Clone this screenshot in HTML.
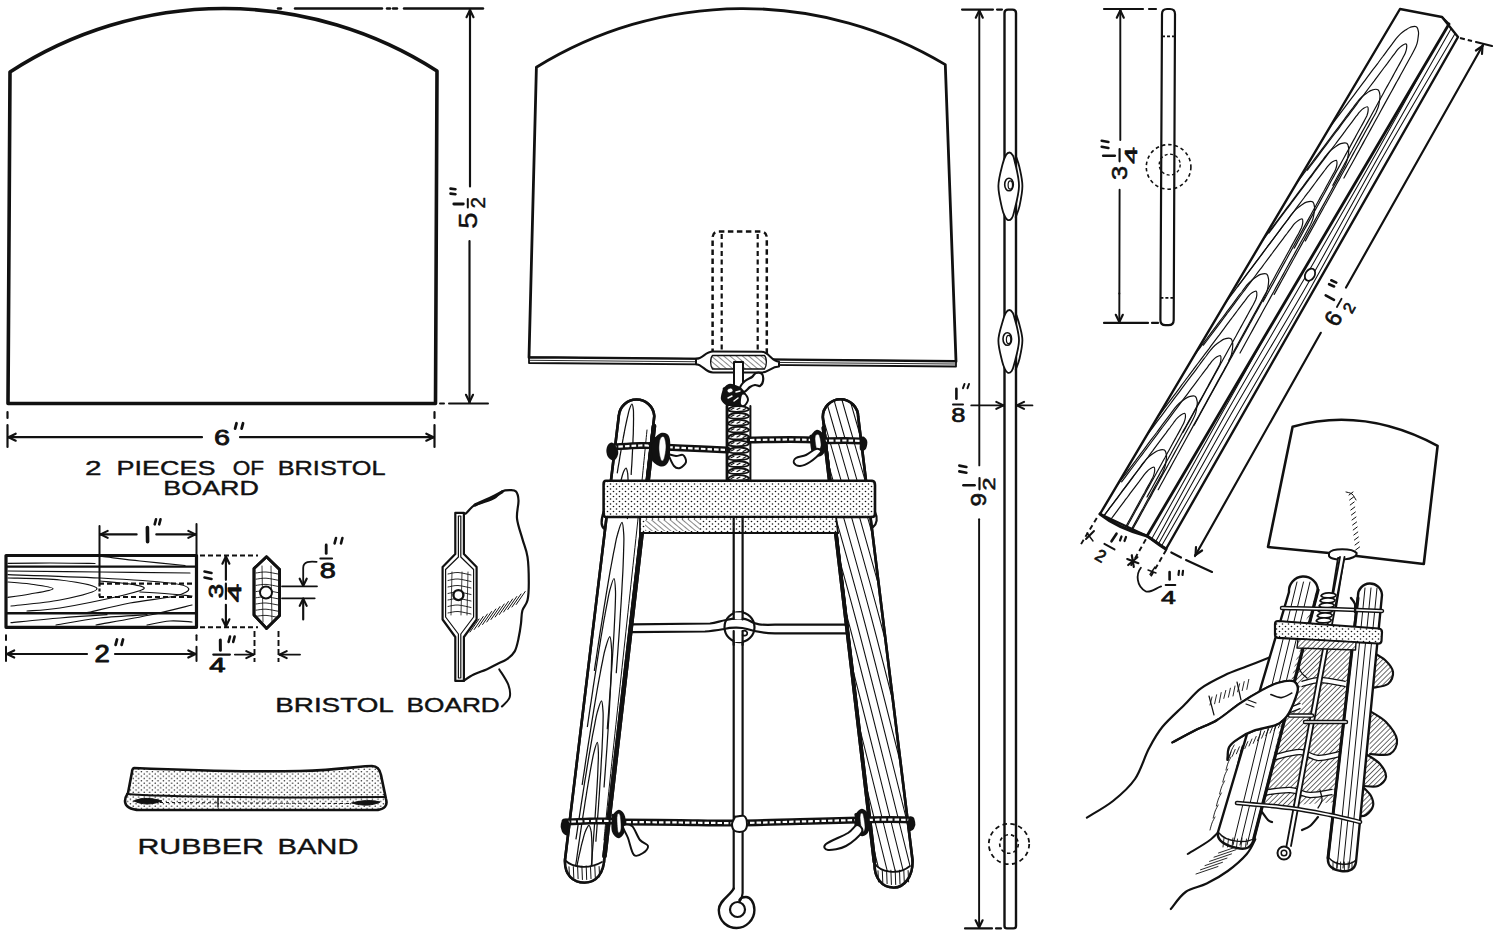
<!DOCTYPE html>
<html><head><meta charset="utf-8"><style>
html,body{margin:0;padding:0;background:#fff;width:1500px;height:938px;overflow:hidden}
svg{display:block}
text{font-family:"Liberation Sans",sans-serif;fill:#111}
</style></head><body>
<svg width="1500" height="938" viewBox="0 0 1500 938" stroke="#111" fill="none" stroke-linejoin="round" stroke-linecap="round">
<defs><pattern id="stip" width="9" height="7" patternUnits="userSpaceOnUse"><rect width="9" height="7" fill="#fff" stroke="none"/><circle cx="2" cy="2" r="0.9" fill="#111" stroke="none"/><circle cx="6.5" cy="5.5" r="0.9" fill="#111" stroke="none"/></pattern>
<pattern id="stip2" width="6" height="5" patternUnits="userSpaceOnUse"><rect width="6" height="5" fill="#fff" stroke="none"/><circle cx="1.5" cy="1.5" r="0.8" fill="#111" stroke="none"/><circle cx="4.5" cy="4" r="0.8" fill="#111" stroke="none"/></pattern>
<pattern id="stip3" width="5.5" height="4.6" patternUnits="userSpaceOnUse"><rect width="5.5" height="4.6" fill="#fff" stroke="none"/><circle cx="1.2" cy="1.2" r="0.75" fill="#111" stroke="none"/><circle cx="4" cy="3.5" r="0.75" fill="#111" stroke="none"/></pattern>
<pattern id="hatchA" width="4" height="4" patternUnits="userSpaceOnUse" patternTransform="rotate(-50)"><rect width="4" height="4" fill="#fff" stroke="none"/><line x1="0" y1="0" x2="0" y2="4" stroke="#111" stroke-width="1"/></pattern>
<clipPath id="cLP"><path d="M618.8,416 A17.8,17.8 0 0 1 654.3,416 L604.5,856 C604,874 596,882.5 584.5,882.5 C573,882.5 564.5,875 565,860 Z"/></clipPath>
<clipPath id="cRP"><path d="M822.8,417 A17.7,17.7 0 0 1 858.2,417 L912.5,860 C913,877 904,887.5 893.7,887.5 C882,887.5 874,878 874.5,862 Z"/></clipPath>
<clipPath id="cLF"><polygon points="1400,9 1442,17 1449,24 1147,536 1100,514"/></clipPath>
<clipPath id="cRF"><polygon points="1442,17 1458,37 1166,549 1147,536 1449,24"/></clipPath>
<pattern id="hatchH" width="3.6" height="3.6" patternUnits="userSpaceOnUse" patternTransform="rotate(45)"><rect width="3.6" height="3.6" fill="#fff" stroke="none"/><line x1="0" y1="0" x2="0" y2="3.6" stroke="#111" stroke-width="1.25"/></pattern>
<clipPath id="cLPs"><path d="M1289,592 A14.5,14.5 0 0 1 1318,590 L1254,838 C1252,848 1246,850 1237,848 C1228,846 1216,842 1218,832 Z"/></clipPath>
<clipPath id="cRPs"><path d="M1358,596 A12,12 0 0 1 1382,595 L1356,862 C1355,870 1348,872 1341,871 C1333,870 1327,866 1328,858 Z"/></clipPath></defs>
<rect x="0" y="0" width="1500" height="938" fill="#fff" stroke="none"/>
<path d="M10,72 A393.3,393.3 0 0 1 437,71 L435.5,403.5 L8,403.5 Z" stroke-width="3.6" fill="none" />
<line x1="278" y1="8.5" x2="281" y2="8.5" stroke-width="2.4" stroke-linecap="round"/>
<line x1="295" y1="8.5" x2="382" y2="8.5" stroke-width="2.4" stroke-linecap="round"/>
<line x1="387" y1="8.5" x2="390" y2="8.5" stroke-width="2.4" stroke-linecap="round"/>
<line x1="393" y1="8.5" x2="397" y2="8.5" stroke-width="2.4" stroke-linecap="round"/>
<line x1="404" y1="8.5" x2="483" y2="8.5" stroke-width="2.4" stroke-linecap="round"/>
<line x1="470" y1="9" x2="470" y2="186.5" stroke-width="2.16" stroke-linecap="round"/>
<line x1="469.5" y1="241" x2="469.5" y2="403" stroke-width="2.16" stroke-linecap="round"/>
<line x1="470" y1="10" x2="473.5" y2="17.2" stroke-width="2.16" stroke-linecap="round"/>
<line x1="470" y1="10" x2="466.5" y2="17.2" stroke-width="2.16" stroke-linecap="round"/>
<line x1="469.5" y1="402" x2="466" y2="394.8" stroke-width="2.16" stroke-linecap="round"/>
<line x1="469.5" y1="402" x2="473" y2="394.8" stroke-width="2.16" stroke-linecap="round"/>
<line x1="440" y1="403.5" x2="444" y2="403.5" stroke-width="2" stroke-linecap="round"/>
<line x1="449" y1="403.5" x2="488" y2="403.5" stroke-width="2" stroke-linecap="round"/>
<text transform="translate(476.9,228.7) rotate(-90) scale(1.179,1)" font-size="25.00" stroke-width="0.4">5</text>
<line x1="453.8" y1="204" x2="463.3" y2="204" stroke-width="2.8" stroke-linecap="round"/>
<line x1="467.8" y1="198.9" x2="467.8" y2="207.5" stroke-width="2" stroke-linecap="round"/>
<text transform="translate(485.2,208.6) rotate(-90) scale(1.075,1)" font-size="19.43" stroke-width="0.4">2</text>
<line x1="450.5" y1="188.6" x2="455.5" y2="189.2" stroke-width="2.6" stroke-linecap="round"/>
<line x1="450.5" y1="193.6" x2="455.5" y2="194.2" stroke-width="2.6" stroke-linecap="round"/>
<line x1="7.5" y1="412" x2="7.5" y2="418" stroke-width="2.2" stroke-linecap="round"/>
<line x1="7.5" y1="425" x2="7.5" y2="447" stroke-width="2.2" stroke-linecap="round"/>
<line x1="434.5" y1="412" x2="434.5" y2="418" stroke-width="2.2" stroke-linecap="round"/>
<line x1="434.5" y1="425" x2="434.5" y2="447" stroke-width="2.2" stroke-linecap="round"/>
<line x1="8" y1="437.2" x2="202" y2="437.2" stroke-width="2.16" stroke-linecap="round"/>
<line x1="240" y1="437.2" x2="434" y2="437.2" stroke-width="2.16" stroke-linecap="round"/>
<line x1="8.5" y1="437.2" x2="15.7" y2="433.7" stroke-width="2.16" stroke-linecap="round"/>
<line x1="8.5" y1="437.2" x2="15.7" y2="440.7" stroke-width="2.16" stroke-linecap="round"/>
<line x1="433.5" y1="437.2" x2="426.3" y2="440.7" stroke-width="2.16" stroke-linecap="round"/>
<line x1="433.5" y1="437.2" x2="426.3" y2="433.7" stroke-width="2.16" stroke-linecap="round"/>
<text transform="translate(214,445.4) scale(1.263,1)" font-size="22.82" stroke-width="0.8">6</text>
<line x1="236.5" y1="423.3" x2="235.1" y2="428.6" stroke-width="2.8" stroke-linecap="round"/>
<line x1="243" y1="423.3" x2="241.6" y2="428.6" stroke-width="2.8" stroke-linecap="round"/>
<text transform="translate(85.1,475) scale(1.473,1)" font-size="20.14" stroke-width="0.4">2</text>
<text transform="translate(116.4,474.8) scale(1.360,1)" font-size="19.86" stroke-width="0.4">PIECES</text>
<text transform="translate(232.8,474.8) scale(1.138,1)" font-size="19.86" stroke-width="0.4">OF</text>
<text transform="translate(277.7,474.8) scale(1.275,1)" font-size="19.86" stroke-width="0.4">BRISTOL</text>
<text transform="translate(163.3,494.8) scale(1.282,1)" font-size="20.99" stroke-width="0.4">BOARD</text>
<polygon points="6,555.5 196.5,555.5 196.5,627.3 6,627.3" stroke-width="3.2" fill="none" />
<line x1="7" y1="566.7" x2="195" y2="566.7" stroke-width="2.2" stroke-linecap="round"/>
<line x1="7" y1="613.3" x2="195" y2="613.3" stroke-width="2.4" stroke-linecap="round"/>
<path d="M8,563.3 C15,563.2 35.5,563 50,563 C64.5,563 87.5,563.4 95,563.5" stroke-width="1.2" fill="none" />
<path d="M102,556.5 C108.3,557.2 126.2,559.5 140,561 C153.8,562.5 177.5,564.8 185,565.5" stroke-width="1.2" fill="none" />
<path d="M8,571 C23.3,571.2 69.7,571.7 100,572 C130.3,572.3 175,572.8 190,573" stroke-width="1.2" fill="none" />
<path d="M8,582 C11.7,582.3 22.5,582.9 30,584 C37.5,585.1 53,587 53,588.7 C53,590.4 37.5,592.6 30,594 C22.5,595.4 11.7,596.8 8,597.3" stroke-width="1.2" fill="none" />
<path d="M8,578 C16.7,578.3 45.2,578.2 60,580 C74.8,581.8 97,585.4 97,588.7 C97,592 74.3,597.1 60,600 C45.7,602.9 19.2,605 11,606" stroke-width="1.2" fill="none" />
<path d="M100,581 C105,581.5 122.7,582.7 130,584 C137.3,585.3 145.7,586.7 144,588.7 C142.3,590.7 134,592.8 120,596 C106,599.2 75.5,605.5 60,608 C44.5,610.5 32.5,610.5 27,611" stroke-width="1.2" fill="none" />
<path d="M8,574.7 C23.3,575.2 73,576.6 100,578 C127,579.4 155.2,581.2 170,583 C184.8,584.8 187.9,586.5 188.7,588.7 C189.5,590.9 184.8,593.6 175,596 C165.2,598.4 144.7,600.2 130,603 C115.3,605.8 94.2,611.1 87,612.7" stroke-width="1.2" fill="none" />
<path d="M11,622.7 C19.2,621.9 44,619.3 60,618 C76,616.7 99.2,615.2 107,614.7" stroke-width="1.2" fill="none" />
<path d="M56,625 C63.3,623.8 84.8,619.7 100,618 C115.2,616.3 139.2,615.2 147,614.7" stroke-width="1.2" fill="none" />
<path d="M96,625 C105,623.3 134,618.3 150,615 C166,611.7 185,606.7 192,605" stroke-width="1.2" fill="none" />
<path d="M147,625 C150.8,624.3 162.5,621.5 170,621 C177.5,620.5 188.3,621.8 192,622" stroke-width="1.2" fill="none" />
<path d="M140,592 C145,592.3 161.3,593.3 170,594 C178.7,594.7 188.3,595.7 192,596" stroke-width="1.2" fill="none" />
<line x1="99" y1="583.6" x2="196" y2="583.6" stroke-width="2.16" stroke-linecap="butt" stroke-dasharray="5,3"/>
<line x1="99" y1="597" x2="196" y2="597" stroke-width="2.16" stroke-linecap="butt" stroke-dasharray="5,3"/>
<line x1="99.5" y1="526" x2="99.5" y2="583.6" stroke-width="2" stroke-linecap="round"/>
<line x1="99.5" y1="583.6" x2="99.5" y2="597" stroke-width="2.16" stroke-linecap="butt" stroke-dasharray="3,2"/>
<line x1="196.5" y1="524" x2="196.5" y2="555" stroke-width="2" stroke-linecap="round"/>
<line x1="100" y1="534.4" x2="136.6" y2="534.4" stroke-width="2.16" stroke-linecap="round"/>
<line x1="156.3" y1="534.4" x2="196" y2="534.4" stroke-width="2.16" stroke-linecap="round"/>
<line x1="100.5" y1="534.4" x2="107.7" y2="530.9" stroke-width="2.16" stroke-linecap="round"/>
<line x1="100.5" y1="534.4" x2="107.7" y2="537.9" stroke-width="2.16" stroke-linecap="round"/>
<line x1="195.5" y1="534.4" x2="188.3" y2="537.9" stroke-width="2.16" stroke-linecap="round"/>
<line x1="195.5" y1="534.4" x2="188.3" y2="530.9" stroke-width="2.16" stroke-linecap="round"/>
<line x1="147.4" y1="527.5" x2="147.6" y2="541.8" stroke-width="3.6" stroke-linecap="round"/>
<line x1="156" y1="519.3" x2="154.7" y2="524.3" stroke-width="2.6" stroke-linecap="round"/>
<line x1="160.5" y1="519.3" x2="159.2" y2="524.3" stroke-width="2.6" stroke-linecap="round"/>
<line x1="6" y1="635.3" x2="6" y2="640" stroke-width="2" stroke-linecap="round"/>
<line x1="6" y1="646.7" x2="6" y2="661" stroke-width="2" stroke-linecap="round"/>
<line x1="196.5" y1="635.3" x2="196.5" y2="640" stroke-width="2" stroke-linecap="round"/>
<line x1="196.5" y1="646.7" x2="196.5" y2="661" stroke-width="2" stroke-linecap="round"/>
<line x1="6" y1="654" x2="87" y2="654" stroke-width="2.16" stroke-linecap="round"/>
<line x1="115" y1="654" x2="196" y2="654" stroke-width="2.16" stroke-linecap="round"/>
<line x1="7" y1="654" x2="14.2" y2="650.5" stroke-width="2.16" stroke-linecap="round"/>
<line x1="7" y1="654" x2="14.2" y2="657.5" stroke-width="2.16" stroke-linecap="round"/>
<line x1="195.5" y1="654" x2="188.3" y2="657.5" stroke-width="2.16" stroke-linecap="round"/>
<line x1="195.5" y1="654" x2="188.3" y2="650.5" stroke-width="2.16" stroke-linecap="round"/>
<text transform="translate(94.4,662.2) scale(1.166,1)" font-size="23.57" stroke-width="0.9">2</text>
<line x1="117" y1="639.5" x2="115.6" y2="644.8" stroke-width="2.8" stroke-linecap="round"/>
<line x1="123" y1="639.5" x2="121.6" y2="644.8" stroke-width="2.8" stroke-linecap="round"/>
<line x1="200" y1="555.5" x2="258" y2="555.5" stroke-width="1.92" stroke-linecap="butt" stroke-dasharray="5,3"/>
<line x1="200" y1="627.3" x2="258" y2="627.3" stroke-width="1.92" stroke-linecap="butt" stroke-dasharray="5,3"/>
<line x1="225.9" y1="556" x2="225.9" y2="579.8" stroke-width="2.16" stroke-linecap="round"/>
<line x1="225.9" y1="583.7" x2="225.9" y2="599" stroke-width="2.16" stroke-linecap="round"/>
<line x1="225.9" y1="604.8" x2="225.9" y2="627" stroke-width="2.16" stroke-linecap="round"/>
<line x1="225.9" y1="556.5" x2="229.4" y2="563.7" stroke-width="2.16" stroke-linecap="round"/>
<line x1="225.9" y1="556.5" x2="222.4" y2="563.7" stroke-width="2.16" stroke-linecap="round"/>
<line x1="225.9" y1="626.5" x2="222.4" y2="619.3" stroke-width="2.16" stroke-linecap="round"/>
<line x1="225.9" y1="626.5" x2="229.4" y2="619.3" stroke-width="2.16" stroke-linecap="round"/>
<text transform="translate(223.4,598.3) rotate(-90) scale(1.259,1)" font-size="20.56" stroke-width="0.8">3</text>
<text transform="translate(241.2,602.2) rotate(-90) scale(1.793,1)" font-size="18.55" stroke-width="0.8">4</text>
<line x1="204.5" y1="571.5" x2="211.5" y2="573" stroke-width="2.6" stroke-linecap="round"/>
<line x1="204.5" y1="577.5" x2="211.5" y2="579" stroke-width="2.6" stroke-linecap="round"/>
<polygon points="266.5,556.7 279.6,569.5 279.6,615.6 266.5,628.4 254,615 254,568.6" stroke-width="2.8" fill="#fff" />
<path d="M256,573 C257.7,572.8 262.3,571.8 266,572 C269.7,572.2 276,573.7 278,574" stroke-width="0.9" fill="none" />
<path d="M256,579.2 C257.7,579 262.3,578 266,578.2 C269.7,578.4 276,579.9 278,580.2" stroke-width="0.9" fill="none" />
<path d="M256,585.4 C257.7,585.2 262.3,584.2 266,584.4 C269.7,584.6 276,586.1 278,586.4" stroke-width="0.9" fill="none" />
<path d="M256,591.6 C257.7,591.4 262.3,590.4 266,590.6 C269.7,590.8 276,592.3 278,592.6" stroke-width="0.9" fill="none" />
<path d="M256,597.8 C257.7,597.6 262.3,596.6 266,596.8 C269.7,597 276,598.5 278,598.8" stroke-width="0.9" fill="none" />
<path d="M256,604 C257.7,603.8 262.3,602.8 266,603 C269.7,603.2 276,604.7 278,605" stroke-width="0.9" fill="none" />
<path d="M256,610.2 C257.7,610 262.3,609 266,609.2 C269.7,609.4 276,610.9 278,611.2" stroke-width="0.9" fill="none" />
<path d="M256,616.4 C257.7,616.2 262.3,615.2 266,615.4 C269.7,615.6 276,617.1 278,617.4" stroke-width="0.9" fill="none" />
<line x1="262" y1="566" x2="263" y2="622" stroke-width="0.8" stroke-linecap="round"/>
<line x1="271" y1="566" x2="272" y2="622" stroke-width="0.8" stroke-linecap="round"/>
<polygon points="266.5,556.7 279.6,569.5 279.6,615.6 266.5,628.4 254,615 254,568.6" stroke-width="2.8" fill="none" />
<circle cx="266" cy="592.5" r="6" stroke-width="2" fill="#fff"/>
<line x1="254.5" y1="631" x2="254.5" y2="662" stroke-width="1.92" stroke-linecap="butt" stroke-dasharray="6,3"/>
<line x1="278.5" y1="631" x2="278.5" y2="662" stroke-width="1.92" stroke-linecap="butt" stroke-dasharray="6,3"/>
<line x1="234.9" y1="654.6" x2="253" y2="654.6" stroke-width="1.92" stroke-linecap="round"/>
<line x1="253.5" y1="654.6" x2="246.3" y2="658.1" stroke-width="2.16" stroke-linecap="round"/>
<line x1="253.5" y1="654.6" x2="246.3" y2="651.1" stroke-width="2.16" stroke-linecap="round"/>
<line x1="280" y1="654.6" x2="300" y2="654.6" stroke-width="1.92" stroke-linecap="round"/>
<line x1="279.5" y1="654.6" x2="286.7" y2="651.1" stroke-width="2.16" stroke-linecap="round"/>
<line x1="279.5" y1="654.6" x2="286.7" y2="658.1" stroke-width="2.16" stroke-linecap="round"/>
<line x1="220.3" y1="640" x2="220.4" y2="650.3" stroke-width="3" stroke-linecap="round"/>
<line x1="230" y1="636.6" x2="228.6" y2="641.9" stroke-width="2.6" stroke-linecap="round"/>
<line x1="234.6" y1="636.6" x2="233.2" y2="641.9" stroke-width="2.6" stroke-linecap="round"/>
<line x1="213.3" y1="654.6" x2="229.9" y2="654.6" stroke-width="2.2" stroke-linecap="round"/>
<text transform="translate(209.2,672.1) scale(1.444,1)" font-size="20.29" stroke-width="0.9">4</text>
<line x1="282" y1="586.3" x2="317" y2="586.3" stroke-width="1.8" stroke-linecap="round"/>
<line x1="282" y1="598.3" x2="314.7" y2="598.3" stroke-width="1.8" stroke-linecap="round"/>
<path d="M316.6,561.9 C310,561 303.2,561.5 303.2,568 L303.2,585.5" stroke-width="1.8" fill="none" />
<line x1="303.2" y1="585.9" x2="299.7" y2="578.7" stroke-width="2.16" stroke-linecap="round"/>
<line x1="303.2" y1="585.9" x2="306.7" y2="578.7" stroke-width="2.16" stroke-linecap="round"/>
<line x1="303.2" y1="599" x2="303.2" y2="619.5" stroke-width="2.16" stroke-linecap="round"/>
<line x1="303.2" y1="598.7" x2="306.7" y2="605.9" stroke-width="2.16" stroke-linecap="round"/>
<line x1="303.2" y1="598.7" x2="299.7" y2="605.9" stroke-width="2.16" stroke-linecap="round"/>
<line x1="326.2" y1="545" x2="326.2" y2="553.4" stroke-width="2.8" stroke-linecap="round"/>
<line x1="336" y1="538" x2="334.6" y2="543.4" stroke-width="2.6" stroke-linecap="round"/>
<line x1="342.4" y1="538" x2="341" y2="543.4" stroke-width="2.6" stroke-linecap="round"/>
<line x1="320.4" y1="558.5" x2="332" y2="558.5" stroke-width="2.2" stroke-linecap="round"/>
<text transform="translate(319.8,578.1) scale(1.325,1)" font-size="21.83" stroke-width="0.8">8</text>
<path d="M463.5,513 C463.9,513 464.3,514.5 466,513.3 C467.7,512.1 471.1,507.3 473.7,505.6 C476.3,503.9 478,504.3 481.4,503 C484.8,501.7 490.8,499.9 494.2,498 C497.6,496.1 499.3,492.8 501.9,491.5 C504.5,490.2 507.2,490.2 509.6,490.2 C512,490.2 514.5,489.8 516,491.5 C517.5,493.2 518.3,496 518.5,500.5 C518.7,505 516.4,512 517,518.4 C517.6,524.8 520.6,532.5 522.4,538.9 C524.1,545.3 526.4,549.5 527.5,556.8 C528.6,564 528.8,575.1 528.8,582.4 C528.8,589.6 528.6,595.6 527.5,600.3 C526.4,605 523.5,606.7 522.4,610.5 C521.3,614.3 521.6,618.6 521,623.3 C520.4,628 519.5,633.9 518.5,638.6 C517.5,643.3 516.6,648 514.7,651.4 C512.8,654.8 510,657 507,659.1 C504,661.2 500.2,662.5 496.8,664.2 C493.4,665.9 490.4,667.7 486.5,669.4 C482.6,671.1 477.5,672.6 473.7,674.5 C469.9,676.4 465.2,679.8 463.5,680.9" stroke-width="2.2" fill="none" />
<path d="M475,505 C485,500 492,498 502,492" stroke-width="3.2" fill="none" />
<polygon points="455.3,512.8 455.3,554 442.6,567 442.6,619.5 455.3,637 455.3,680.9 463.9,680.9 463.9,637 476.6,619.5 476.6,567 463.9,554 463.9,512.8" stroke-width="2.2" fill="#fff" />
<polygon points="458.4,516 458.4,557 445.6,569.5 445.6,617 458.4,634 458.4,678 460.8,678 460.8,634 473.6,617 473.6,569.5 460.8,557 460.8,516" stroke-width="1.2" fill="none" />
<path d="M448,574 C449.7,573.8 454.2,572.3 458,572.5 C461.8,572.7 468.8,574.6 471,575" stroke-width="0.9" fill="none" />
<path d="M448,580.5 C449.7,580.2 454.2,578.8 458,579 C461.8,579.2 468.8,581.1 471,581.5" stroke-width="0.9" fill="none" />
<path d="M448,587 C449.7,586.8 454.2,585.3 458,585.5 C461.8,585.7 468.8,587.6 471,588" stroke-width="0.9" fill="none" />
<path d="M448,593.5 C449.7,593.2 454.2,591.8 458,592 C461.8,592.2 468.8,594.1 471,594.5" stroke-width="0.9" fill="none" />
<path d="M448,600 C449.7,599.8 454.2,598.3 458,598.5 C461.8,598.7 468.8,600.6 471,601" stroke-width="0.9" fill="none" />
<path d="M448,606.5 C449.7,606.2 454.2,604.8 458,605 C461.8,605.2 468.8,607.1 471,607.5" stroke-width="0.9" fill="none" />
<path d="M448,613 C449.7,612.8 454.2,611.3 458,611.5 C461.8,611.7 468.8,613.6 471,614" stroke-width="0.9" fill="none" />
<line x1="452" y1="572" x2="451" y2="615" stroke-width="0.8" stroke-linecap="round"/>
<line x1="462" y1="572" x2="461" y2="615" stroke-width="0.8" stroke-linecap="round"/>
<line x1="468" y1="572" x2="467" y2="615" stroke-width="0.8" stroke-linecap="round"/>
<circle cx="458.4" cy="595.1" r="5" stroke-width="2.4" fill="#fff"/>
<line x1="470" y1="632" x2="479" y2="619" stroke-width="1" stroke-linecap="round"/>
<line x1="474.2" y1="629.5" x2="483.2" y2="616.5" stroke-width="1" stroke-linecap="round"/>
<line x1="478.4" y1="627" x2="487.4" y2="614" stroke-width="1" stroke-linecap="round"/>
<line x1="482.6" y1="624.5" x2="491.6" y2="611.5" stroke-width="1" stroke-linecap="round"/>
<line x1="486.8" y1="622" x2="495.8" y2="609" stroke-width="1" stroke-linecap="round"/>
<line x1="491" y1="619.5" x2="500" y2="606.5" stroke-width="1" stroke-linecap="round"/>
<line x1="495.2" y1="617" x2="504.2" y2="604" stroke-width="1" stroke-linecap="round"/>
<line x1="499.4" y1="614.5" x2="508.4" y2="601.5" stroke-width="1" stroke-linecap="round"/>
<line x1="503.6" y1="612" x2="512.6" y2="599" stroke-width="1" stroke-linecap="round"/>
<line x1="507.8" y1="609.5" x2="516.8" y2="596.5" stroke-width="1" stroke-linecap="round"/>
<line x1="512" y1="607" x2="521" y2="594" stroke-width="1" stroke-linecap="round"/>
<line x1="516.2" y1="604.5" x2="525.2" y2="591.5" stroke-width="1" stroke-linecap="round"/>
<path d="M499.3,669.4 C500.8,672 506.6,680 508.3,684.7 C510,689.4 510.7,693.9 509.6,697.5 C508.5,701.1 503.2,705 501.9,706.5" stroke-width="2" fill="none" />
<text transform="translate(275.2,712) scale(1.413,1)" font-size="19.72" stroke-width="0.4">BRISTOL</text>
<text transform="translate(406.5,712) scale(1.331,1)" font-size="19.72" stroke-width="0.4">BOARD</text>
<path d="M134,768 C180,770 250,772 300,771 C340,770 360,766 372,766 C378,766 380,770 381,775 L386,799 C388,806 384,809 378,810 L140,810 C130,810 125,806 125,801 C125,797 126,796 128,793 L132,772 C132,770 133,768 134,768 Z" stroke-width="2.6" fill="url(#stip3)" />
<path d="M127,794 C160,797 300,798 385,797" stroke-width="2" fill="none" />
<path d="M134,801 C142,797 152,798 162,801 C152,805 142,805 134,801 Z" stroke-width="1" fill="#111" />
<path d="M352,803 C362,800 372,800 380,802 C372,806 362,806 352,803 Z" stroke-width="1" fill="#111" />
<line x1="160" y1="802.5" x2="350" y2="803.5" stroke-width="1" stroke-linecap="butt" stroke-dasharray="3,3"/>
<line x1="218" y1="797" x2="218" y2="807" stroke-width="1.4" stroke-linecap="round"/>
<text transform="translate(137.4,853.6) scale(1.364,1)" font-size="22.29" stroke-width="0.4">RUBBER</text>
<text transform="translate(277.5,853.8) scale(1.289,1)" font-size="22.61" stroke-width="0.4">BAND</text>
<path d="M536.4,67.3 A392.9,392.9 0 0 1 945.3,64.6 L956,361.5 L529,357.5 Z" stroke-width="2.8" fill="#fff" />
<path d="M529,357.5 L956,361.5 L956,366.5 L529,363 Z" stroke-width="1.8" fill="#fff" />
<line x1="530" y1="360.3" x2="955" y2="364" stroke-width="0.9" stroke-linecap="round"/>
<path d="M712.6,354 L712.6,238 Q712.6,231.6 719,231.6 L760.5,231.6 Q766.8,231.6 766.8,238 L766.8,354" stroke-width="2.5" fill="none" stroke-dasharray="5.5,3.5" stroke-linecap="butt"/>
<line x1="721.7" y1="234" x2="721.7" y2="354" stroke-width="2.2" stroke-linecap="butt" stroke-dasharray="5,3.5"/>
<line x1="757.7" y1="234" x2="757.7" y2="354" stroke-width="2.2" stroke-linecap="butt" stroke-dasharray="5,3.5"/>
<path d="M696,358.8 C703,359 705,351.5 713,351.5 L762,351.8 C769,352 771,361 779,361.8 L779,366.6 C771,366.6 769,372.5 762,372.5 L713,372.4 C705,372.4 703,364.5 696,364.2 Z" stroke-width="2" fill="#fff" />
<path d="M712.5,355.5 L764.5,355.5 C767,358 767,366 764.5,369 L712.5,369 C710,366 710,358 712.5,355.5 Z" stroke-width="1.3" fill="url(#hatchA)" />
<polygon points="734,362 743,362 743,404 734,404" stroke-width="2" fill="#fff" />
<path d="M740,388 C740.2,386.2 743,382.8 745,381 C747,379.2 750.2,378.3 752,377 C753.8,375.7 754.3,373.5 756,373 C757.7,372.5 760.8,372.7 762,374 C763.2,375.3 763.3,379 763,381 C762.7,383 761.3,385.3 760,386 C758.7,386.7 756.7,384.8 755,385 C753.3,385.2 751.8,385.8 750,387 C748.2,388.2 745.7,391.8 744,392 C742.3,392.2 739.8,389.8 740,388Z" stroke-width="2.2" fill="#fff" />
<path d="M724,389 C724.8,388.3 727.2,385.5 729,385 C730.8,384.5 733,385.3 735,386 C737,386.7 739.3,387.5 741,389 C742.7,390.5 744.7,392.8 745,395 C745.3,397.2 744.5,400.2 743,402 C741.5,403.8 738.5,405.5 736,406 C733.5,406.5 730.3,406.2 728,405 C725.7,403.8 722.7,401.7 722,399 C721.3,396.3 723.7,390.7 724,389 C724.3,387.3 723.2,389.7 724,389Z" stroke-width="2.2" fill="#111" />
<path d="M727,390 C727.3,389.2 730,387.8 731,388 C732,388.2 733.3,390.2 733,391 C732.7,391.8 730,393.2 729,393 C728,392.8 726.7,390.8 727,390Z" stroke-width="0.8" fill="#fff" />
<path d="M728,398 L732,396 M734,401 L738,398 M736,392 L740,391" stroke-width="1.4" fill="none" stroke="#fff"/>
<path d="M741,395 C741.8,393.3 743.8,393.2 745,394 C746.2,394.8 748.2,398 748,400 C747.8,402 745.3,405.3 744,406 C742.7,406.7 740.5,405.8 740,404 C739.5,402.2 740.2,396.7 741,395Z" stroke-width="2" fill="#fff" />
<polygon points="727,406 750,406 750,481 727,481" stroke-width="0" fill="#fff" stroke="none"/>
<path d="M728,410 C730,405 745,405 749,409 C749,412 731,413 728,410 Z" stroke-width="1.9" fill="#fff" />
<path d="M731,409.5 L734,408 M737,409.5 L740,408 M743,410 L746,408.5" stroke-width="1.1" fill="none" />
<path d="M728,416.9 C730,411.9 745,411.9 749,415.9 C749,418.9 731,419.9 728,416.9 Z" stroke-width="1.9" fill="#fff" />
<path d="M731,416.4 L734,414.9 M737,416.4 L740,414.9 M743,416.9 L746,415.4" stroke-width="1.1" fill="none" />
<path d="M728,423.8 C730,418.8 745,418.8 749,422.8 C749,425.8 731,426.8 728,423.8 Z" stroke-width="1.9" fill="#fff" />
<path d="M731,423.3 L734,421.8 M737,423.3 L740,421.8 M743,423.8 L746,422.3" stroke-width="1.1" fill="none" />
<path d="M728,430.7 C730,425.7 745,425.7 749,429.7 C749,432.7 731,433.7 728,430.7 Z" stroke-width="1.9" fill="#fff" />
<path d="M731,430.2 L734,428.7 M737,430.2 L740,428.7 M743,430.7 L746,429.2" stroke-width="1.1" fill="none" />
<path d="M728,437.6 C730,432.6 745,432.6 749,436.6 C749,439.6 731,440.6 728,437.6 Z" stroke-width="1.9" fill="#fff" />
<path d="M731,437.1 L734,435.6 M737,437.1 L740,435.6 M743,437.6 L746,436.1" stroke-width="1.1" fill="none" />
<path d="M728,444.5 C730,439.5 745,439.5 749,443.5 C749,446.5 731,447.5 728,444.5 Z" stroke-width="1.9" fill="#fff" />
<path d="M731,444 L734,442.5 M737,444 L740,442.5 M743,444.5 L746,443" stroke-width="1.1" fill="none" />
<path d="M728,451.4 C730,446.4 745,446.4 749,450.4 C749,453.4 731,454.4 728,451.4 Z" stroke-width="1.9" fill="#fff" />
<path d="M731,450.9 L734,449.4 M737,450.9 L740,449.4 M743,451.4 L746,449.9" stroke-width="1.1" fill="none" />
<path d="M728,458.3 C730,453.3 745,453.3 749,457.3 C749,460.3 731,461.3 728,458.3 Z" stroke-width="1.9" fill="#fff" />
<path d="M731,457.8 L734,456.3 M737,457.8 L740,456.3 M743,458.3 L746,456.8" stroke-width="1.1" fill="none" />
<path d="M728,465.2 C730,460.2 745,460.2 749,464.2 C749,467.2 731,468.2 728,465.2 Z" stroke-width="1.9" fill="#fff" />
<path d="M731,464.7 L734,463.2 M737,464.7 L740,463.2 M743,465.2 L746,463.7" stroke-width="1.1" fill="none" />
<path d="M728,472.1 C730,467.1 745,467.1 749,471.1 C749,474.1 731,475.1 728,472.1 Z" stroke-width="1.9" fill="#fff" />
<path d="M731,471.6 L734,470.1 M737,471.6 L740,470.1 M743,472.1 L746,470.6" stroke-width="1.1" fill="none" />
<path d="M728,479 C730,474 745,474 749,478 C749,481 731,482 728,479 Z" stroke-width="1.9" fill="#fff" />
<path d="M731,478.5 L734,477 M737,478.5 L740,477 M743,479 L746,477.5" stroke-width="1.1" fill="none" />
<line x1="727" y1="406" x2="727" y2="481" stroke-width="2.8" stroke-linecap="round"/>
<line x1="750.4" y1="406" x2="750.4" y2="481" stroke-width="2" stroke-linecap="round"/>
<path d="M618.8,416 A17.8,17.8 0 0 1 654.3,416 L604.5,856 C604,874 596,882.5 584.5,882.5 C573,882.5 564.5,875 565,860 Z" stroke-width="2.6" fill="#fff" />
<path d="M822.8,417 A17.7,17.7 0 0 1 858.2,417 L912.5,860 C913,877 904,887.5 893.7,887.5 C882,887.5 874,878 874.5,862 Z" stroke-width="2.6" fill="#fff" />
<path d="M654,426 L604.5,856" stroke-width="4.5" fill="none" />
<path d="M823.5,428 L874.5,862" stroke-width="3.8" fill="none" />
<g clip-path="url(#cLP)">
<path d="M617.3,472.8 C617.4,471.8 617.9,469 618.2,467 C618.5,465.1 618.9,463.2 619.2,461.3 C619.5,459.4 619.8,457.4 620.1,455.5 C620.5,453.6 620.8,451.7 621.1,449.8 C621.5,447.8 621.8,445.9 622.2,444 C622.5,442.1 622.8,440.2 623.2,438.2 C623.5,436.3 623.9,434.4 624.3,432.5 C624.6,430.6 625,428.7 625.4,426.7 C625.8,424.8 626.2,422.9 626.6,421 C627,419.1 627.4,417.2 627.9,415.3 C628.3,413.4 628.7,411.5 629.3,409.6 C630,407.7 631.3,403.9 632,404 C632.7,404.1 633.1,408 633.4,410 C633.6,412 633.5,414 633.5,415.9 C633.6,417.9 633.6,419.8 633.5,421.8 C633.5,423.7 633.5,425.7 633.4,427.6 C633.4,429.6 633.3,431.5 633.3,433.5 C633.2,435.4 633.1,437.4 633,439.3 C633,441.3 632.9,443.2 632.8,445.2 C632.7,447.1 632.6,449.1 632.5,451 C632.4,453 632.3,454.9 632.2,456.9 C632.1,458.8 632,460.7 631.9,462.7 C631.8,464.6 631.7,466.6 631.5,468.5 C631.4,470.5 631.2,473.4 631.2,474.4" stroke-width="1.25" fill="none" />
<path d="M594.4,670.3 C594.7,668.2 595.6,662 596.3,657.9 C596.9,653.8 597.5,649.7 598.1,645.5 C598.8,641.4 599.4,637.3 600,633.2 C600.7,629 601.3,624.9 602,620.8 C602.6,616.7 603.3,612.6 603.9,608.4 C604.6,604.3 605.3,600.2 605.9,596.1 C606.6,592 607.3,587.9 608,583.7 C608.7,579.6 609.4,575.5 610.1,571.4 C610.9,567.3 611.6,563.2 612.4,559.1 C613.1,555 613.9,550.9 614.8,546.8 C615.6,542.7 616.2,538.5 617.5,534.5 C618.7,530.4 620.9,522.3 622,522.4 C623.1,522.5 623.5,531 623.8,535.2 C624.1,539.4 623.8,543.6 623.7,547.7 C623.6,551.9 623.5,556.1 623.3,560.3 C623.2,564.5 623,568.6 622.8,572.8 C622.6,577 622.3,581.1 622.1,585.3 C621.9,589.5 621.7,593.6 621.4,597.8 C621.2,602 620.9,606.1 620.6,610.3 C620.4,614.5 620.1,618.6 619.8,622.8 C619.6,627 619.3,631.1 619,635.3 C618.7,639.4 618.4,643.6 618.1,647.8 C617.8,651.9 617.5,656.1 617.2,660.2 C616.9,664.4 616.4,670.6 616.3,672.7" stroke-width="1.25" fill="none" />
<path d="M587.4,726.5 C587.7,724.4 588.6,718.2 589.2,714.1 C589.8,710 590.4,705.9 591.1,701.7 C591.7,697.6 592.3,693.5 592.9,689.4 C593.5,685.2 594.2,681.1 594.8,677 C595.4,672.9 596.1,668.7 596.7,664.6 C597.3,660.5 598,656.4 598.6,652.3 C599.3,648.1 600,644 600.6,639.9 C601.3,635.8 602,631.7 602.7,627.6 C603.4,623.4 604.1,619.3 604.9,615.2 C605.6,611.1 606.4,607 607.2,602.9 C608,598.8 608.6,594.7 609.7,590.6 C610.9,586.5 613,578.4 614,578.5 C615,578.6 615.3,587 615.5,591.2 C615.7,595.5 615.4,599.6 615.3,603.8 C615.2,608 615,612.2 614.8,616.3 C614.6,620.5 614.4,624.7 614.2,628.8 C614,633 613.7,637.2 613.5,641.3 C613.2,645.5 613,649.7 612.7,653.8 C612.4,658 612.2,662.2 611.9,666.3 C611.6,670.5 611.3,674.6 611,678.8 C610.7,683 610.4,687.1 610.1,691.3 C609.8,695.4 609.5,699.6 609.2,703.8 C608.9,707.9 608.6,712.1 608.3,716.2 C607.9,720.4 607.5,726.6 607.3,728.7" stroke-width="1.25" fill="none" />
<path d="M582.2,784.5 C582.5,782.4 583.4,776.2 584.1,772.1 C584.7,768 585.3,763.9 585.9,759.7 C586.6,755.6 587.2,751.5 587.8,747.4 C588.5,743.2 589.1,739.1 589.8,735 C590.4,730.9 591.1,726.8 591.7,722.6 C592.4,718.5 593.1,714.4 593.7,710.3 C594.4,706.2 595.1,702.1 595.8,697.9 C596.5,693.8 597.2,689.7 597.9,685.6 C598.7,681.5 599.4,677.4 600.2,673.3 C600.9,669.2 601.7,665.1 602.6,661 C603.4,656.9 604,652.7 605.3,648.7 C606.5,644.6 608.7,636.5 609.8,636.6 C610.9,636.7 611.3,645.2 611.6,649.4 C611.9,653.6 611.6,657.8 611.5,661.9 C611.4,666.1 611.3,670.3 611.1,674.5 C611,678.7 610.8,682.8 610.6,687 C610.4,691.2 610.1,695.3 609.9,699.5 C609.7,703.7 609.5,707.8 609.2,712 C609,716.2 608.7,720.3 608.4,724.5 C608.2,728.7 607.9,732.8 607.6,737 C607.4,741.2 607.1,745.3 606.8,749.5 C606.5,753.6 606.2,757.8 605.9,762 C605.6,766.1 605.3,770.3 605,774.4 C604.7,778.6 604.2,784.8 604.1,786.9" stroke-width="1.25" fill="none" />
<path d="M576,838.9 C576.3,837 577.2,831.3 577.7,827.4 C578.3,823.6 578.9,819.7 579.5,815.9 C580.1,812 580.6,808.2 581.2,804.3 C581.8,800.5 582.4,796.6 583,792.8 C583.6,788.9 584.2,785.1 584.8,781.2 C585.5,777.4 586.1,773.5 586.7,769.7 C587.3,765.9 588,762 588.6,758.2 C589.3,754.3 589.9,750.5 590.6,746.6 C591.3,742.8 591.9,739 592.6,735.1 C593.4,731.3 594.1,727.5 594.9,723.6 C595.6,719.8 596.2,716 597.3,712.2 C598.4,708.4 600.5,700.8 601.5,700.9 C602.5,701 602.8,708.9 603.1,712.8 C603.3,716.8 603,720.6 603,724.5 C602.9,728.5 602.7,732.3 602.6,736.2 C602.4,740.1 602.2,744 602.1,747.9 C601.9,751.8 601.7,755.7 601.4,759.6 C601.2,763.5 601,767.4 600.8,771.3 C600.5,775.2 600.3,779 600,782.9 C599.8,786.8 599.5,790.7 599.3,794.6 C599,798.5 598.7,802.3 598.5,806.2 C598.2,810.1 597.9,814 597.6,817.9 C597.3,821.8 597.1,825.6 596.8,829.5 C596.5,833.4 596,839.2 595.9,841.2" stroke-width="1.25" fill="none" />
<path d="M574.9,870.7 C575.2,868.9 575.9,863.6 576.5,860 C577,856.4 577.5,852.8 578,849.3 C578.5,845.7 579.1,842.1 579.6,838.5 C580.1,835 580.7,831.4 581.2,827.8 C581.7,824.2 582.3,820.7 582.8,817.1 C583.4,813.5 583.9,810 584.5,806.4 C585,802.8 585.6,799.2 586.2,795.7 C586.7,792.1 587.3,788.5 587.9,785 C588.5,781.4 589.1,777.8 589.7,774.3 C590.3,770.7 591,767.1 591.6,763.6 C592.3,760 592.9,756.4 593.8,752.9 C594.7,749.4 596.5,742.3 597.3,742.4 C598.1,742.5 598.3,749.8 598.4,753.4 C598.5,757.1 598.3,760.7 598.1,764.3 C598,767.9 597.8,771.5 597.7,775.1 C597.5,778.8 597.3,782.4 597.1,786 C596.9,789.6 596.6,793.2 596.4,796.8 C596.2,800.4 596,804 595.7,807.6 C595.5,811.2 595.2,814.9 595,818.5 C594.7,822.1 594.4,825.7 594.2,829.3 C593.9,832.9 593.6,836.5 593.4,840.1 C593.1,843.7 592.8,847.3 592.5,850.9 C592.3,854.5 592,858.1 591.7,861.7 C591.4,865.3 591,870.7 590.8,872.5" stroke-width="1.25" fill="none" />
<path d="M573.4,884 C573.5,883.2 574,880.8 574.3,879.1 C574.6,877.5 575,875.8 575.3,874.2 C575.6,872.5 575.9,870.9 576.3,869.3 C576.6,867.6 576.9,866 577.3,864.3 C577.6,862.7 577.9,861.1 578.3,859.4 C578.6,857.8 579,856.2 579.3,854.5 C579.7,852.9 580.1,851.2 580.5,849.6 C580.8,848 581.2,846.3 581.6,844.7 C582,843.1 582.4,841.4 582.9,839.8 C583.3,838.2 583.7,836.6 584.2,834.9 C584.7,833.3 585.1,831.7 585.9,830.1 C586.7,828.5 588.1,825.3 589,825.4 C589.9,825.5 590.6,828.9 591,830.7 C591.5,832.4 591.4,834.1 591.5,835.7 C591.7,837.4 591.7,839.1 591.8,840.8 C591.9,842.5 591.9,844.2 591.9,845.9 C592,847.5 592,849.2 592,850.9 C592,852.6 592,854.3 592,855.9 C592,857.6 592,859.3 591.9,861 C591.9,862.6 591.9,864.3 591.9,866 C591.8,867.6 591.8,869.3 591.8,871 C591.7,872.7 591.7,874.3 591.6,876 C591.6,877.7 591.5,879.4 591.5,881 C591.4,882.7 591.3,885.2 591.3,886" stroke-width="1.25" fill="none" />
<path d="M613.5,516.9 C613.6,516.2 614,514.2 614.3,512.8 C614.5,511.4 614.8,510.1 615,508.7 C615.3,507.3 615.5,506 615.8,504.6 C616.1,503.2 616.3,501.9 616.6,500.5 C616.9,499.1 617.2,497.8 617.4,496.4 C617.7,495 618,493.7 618.3,492.3 C618.6,490.9 618.9,489.6 619.2,488.2 C619.5,486.8 619.8,485.5 620.1,484.1 C620.5,482.8 620.8,481.4 621.1,480 C621.5,478.7 621.8,477.3 622.2,476 C622.6,474.6 622.9,473.2 623.5,471.9 C624.2,470.6 625.3,467.9 626,468 C626.7,468.1 627.2,470.9 627.5,472.4 C627.9,473.8 627.8,475.2 627.9,476.6 C628,478 628,479.4 628.1,480.8 C628.1,482.2 628.2,483.6 628.2,485 C628.2,486.4 628.2,487.8 628.2,489.2 C628.2,490.6 628.2,492 628.1,493.4 C628.1,494.8 628.1,496.2 628.1,497.6 C628,499 628,500.4 628,501.8 C627.9,503.2 627.9,504.6 627.9,505.9 C627.8,507.3 627.8,508.7 627.7,510.1 C627.7,511.5 627.6,512.9 627.6,514.3 C627.5,515.7 627.4,517.8 627.4,518.5" stroke-width="1.25" fill="none" />
</g>
<g clip-path="url(#cLP)">
<path d="M647,430 C645.8,441.7 643.7,465 640,500 C636.3,535 630,593.3 625,640 C620,686.7 613.5,746.7 610,780 C606.5,813.3 605,830 604,840" stroke-width="1" fill="none" />
</g>
<g clip-path="url(#cRP)">
<path d="M506,400 C516.3,436.7 546.3,538.3 568,620 C589.7,701.7 624.7,845 636,890" stroke-width="1.05" fill="none" />
<path d="M514,400 C524.3,436.7 554.3,538.3 576,620 C597.7,701.7 632.7,845 644,890" stroke-width="1.05" fill="none" />
<path d="M522,400 C532.3,436.7 562.3,538.3 584,620 C605.7,701.7 640.7,845 652,890" stroke-width="1.05" fill="none" />
<path d="M530,400 C540.3,436.7 570.3,538.3 592,620 C613.7,701.7 648.7,845 660,890" stroke-width="1.05" fill="none" />
<path d="M538,400 C548.3,436.7 578.3,538.3 600,620 C621.7,701.7 656.7,845 668,890" stroke-width="1.05" fill="none" />
<path d="M546,400 C556.3,436.7 586.3,538.3 608,620 C629.7,701.7 664.7,845 676,890" stroke-width="1.05" fill="none" />
<path d="M554,400 C564.3,436.7 594.3,538.3 616,620 C637.7,701.7 672.7,845 684,890" stroke-width="1.05" fill="none" />
<path d="M562,400 C572.3,436.7 602.3,538.3 624,620 C645.7,701.7 680.7,845 692,890" stroke-width="1.05" fill="none" />
<path d="M570,400 C580.3,436.7 610.3,538.3 632,620 C653.7,701.7 688.7,845 700,890" stroke-width="1.05" fill="none" />
<path d="M578,400 C588.3,436.7 618.3,538.3 640,620 C661.7,701.7 696.7,845 708,890" stroke-width="1.05" fill="none" />
<path d="M586,400 C596.3,436.7 626.3,538.3 648,620 C669.7,701.7 704.7,845 716,890" stroke-width="1.05" fill="none" />
<path d="M594,400 C604.3,436.7 634.3,538.3 656,620 C677.7,701.7 712.7,845 724,890" stroke-width="1.05" fill="none" />
<path d="M602,400 C612.3,436.7 642.3,538.3 664,620 C685.7,701.7 720.7,845 732,890" stroke-width="1.05" fill="none" />
<path d="M610,400 C620.3,436.7 650.3,538.3 672,620 C693.7,701.7 728.7,845 740,890" stroke-width="1.05" fill="none" />
<path d="M618,400 C628.3,436.7 658.3,538.3 680,620 C701.7,701.7 736.7,845 748,890" stroke-width="1.05" fill="none" />
<path d="M626,400 C636.3,436.7 666.3,538.3 688,620 C709.7,701.7 744.7,845 756,890" stroke-width="1.05" fill="none" />
<path d="M634,400 C644.3,436.7 674.3,538.3 696,620 C717.7,701.7 752.7,845 764,890" stroke-width="1.05" fill="none" />
<path d="M642,400 C652.3,436.7 682.3,538.3 704,620 C725.7,701.7 760.7,845 772,890" stroke-width="1.05" fill="none" />
<path d="M650,400 C660.3,436.7 690.3,538.3 712,620 C733.7,701.7 768.7,845 780,890" stroke-width="1.05" fill="none" />
<path d="M658,400 C668.3,436.7 698.3,538.3 720,620 C741.7,701.7 776.7,845 788,890" stroke-width="1.05" fill="none" />
<path d="M666,400 C676.3,436.7 706.3,538.3 728,620 C749.7,701.7 784.7,845 796,890" stroke-width="1.05" fill="none" />
<path d="M674,400 C684.3,436.7 714.3,538.3 736,620 C757.7,701.7 792.7,845 804,890" stroke-width="1.05" fill="none" />
<path d="M682,400 C692.3,436.7 722.3,538.3 744,620 C765.7,701.7 800.7,845 812,890" stroke-width="1.05" fill="none" />
<path d="M690,400 C700.3,436.7 730.3,538.3 752,620 C773.7,701.7 808.7,845 820,890" stroke-width="1.05" fill="none" />
<path d="M698,400 C708.3,436.7 738.3,538.3 760,620 C781.7,701.7 816.7,845 828,890" stroke-width="1.05" fill="none" />
<path d="M706,400 C716.3,436.7 746.3,538.3 768,620 C789.7,701.7 824.7,845 836,890" stroke-width="1.05" fill="none" />
<path d="M714,400 C724.3,436.7 754.3,538.3 776,620 C797.7,701.7 832.7,845 844,890" stroke-width="1.05" fill="none" />
<path d="M722,400 C732.3,436.7 762.3,538.3 784,620 C805.7,701.7 840.7,845 852,890" stroke-width="1.05" fill="none" />
<path d="M730,400 C740.3,436.7 770.3,538.3 792,620 C813.7,701.7 848.7,845 860,890" stroke-width="1.05" fill="none" />
<path d="M738,400 C748.3,436.7 778.3,538.3 800,620 C821.7,701.7 856.7,845 868,890" stroke-width="1.05" fill="none" />
<path d="M746,400 C756.3,436.7 786.3,538.3 808,620 C829.7,701.7 864.7,845 876,890" stroke-width="1.05" fill="none" />
<path d="M754,400 C764.3,436.7 794.3,538.3 816,620 C837.7,701.7 872.7,845 884,890" stroke-width="1.05" fill="none" />
<path d="M762,400 C772.3,436.7 802.3,538.3 824,620 C845.7,701.7 880.7,845 892,890" stroke-width="1.05" fill="none" />
<path d="M770,400 C780.3,436.7 810.3,538.3 832,620 C853.7,701.7 888.7,845 900,890" stroke-width="1.05" fill="none" />
<path d="M778,400 C788.3,436.7 818.3,538.3 840,620 C861.7,701.7 896.7,845 908,890" stroke-width="1.05" fill="none" />
<path d="M786,400 C796.3,436.7 826.3,538.3 848,620 C869.7,701.7 904.7,845 916,890" stroke-width="1.05" fill="none" />
<path d="M794,400 C804.3,436.7 834.3,538.3 856,620 C877.7,701.7 912.7,845 924,890" stroke-width="1.05" fill="none" />
<path d="M802,400 C812.3,436.7 842.3,538.3 864,620 C885.7,701.7 920.7,845 932,890" stroke-width="1.05" fill="none" />
<path d="M810,400 C820.3,436.7 850.3,538.3 872,620 C893.7,701.7 928.7,845 940,890" stroke-width="1.05" fill="none" />
<path d="M818,400 C828.3,436.7 858.3,538.3 880,620 C901.7,701.7 936.7,845 948,890" stroke-width="1.05" fill="none" />
<path d="M826,400 C836.3,436.7 866.3,538.3 888,620 C909.7,701.7 944.7,845 956,890" stroke-width="1.05" fill="none" />
<path d="M834,400 C844.3,436.7 874.3,538.3 896,620 C917.7,701.7 952.7,845 964,890" stroke-width="1.05" fill="none" />
<path d="M842,400 C852.3,436.7 882.3,538.3 904,620 C925.7,701.7 960.7,845 972,890" stroke-width="1.05" fill="none" />
<path d="M850,400 C860.3,436.7 890.3,538.3 912,620 C933.7,701.7 968.7,845 980,890" stroke-width="1.05" fill="none" />
<path d="M858,400 C868.3,436.7 898.3,538.3 920,620 C941.7,701.7 976.7,845 988,890" stroke-width="1.05" fill="none" />
<path d="M866,400 C876.3,436.7 906.3,538.3 928,620 C949.7,701.7 984.7,845 996,890" stroke-width="1.05" fill="none" />
<path d="M874,400 C884.3,436.7 914.3,538.3 936,620 C957.7,701.7 992.7,845 1004,890" stroke-width="1.05" fill="none" />
<path d="M882,400 C892.3,436.7 922.3,538.3 944,620 C965.7,701.7 1000.7,845 1012,890" stroke-width="1.05" fill="none" />
</g>
<path d="M566,861 C572,867 588,870 602,862 L604.5,856 C604,874 596,882.5 584.5,882.5 C573,882.5 564.5,875 565,860 Z" stroke-width="0" fill="#fff" stroke="none"/>
<path d="M874.3,863 C880,872 898,876 910,866 L912.5,860 C913,877 904,887.5 893.7,887.5 C882,887.5 874,878 874.5,862 Z" stroke-width="0" fill="#fff" stroke="none"/>
<path d="M566,861 C572,867 588,870 602,862" stroke-width="1.8" fill="none" />
<path d="M874.3,863 C880,872 898,876 910,866" stroke-width="1.8" fill="none" />
<line x1="569" y1="866.8" x2="569.5" y2="876.9" stroke-width="1.0" stroke-linecap="round"/>
<line x1="573.3" y1="866.6" x2="573.8" y2="877.8" stroke-width="1.0" stroke-linecap="round"/>
<line x1="577.6" y1="866.4" x2="578.1" y2="878.6" stroke-width="1.0" stroke-linecap="round"/>
<line x1="581.9" y1="866.2" x2="582.4" y2="879.5" stroke-width="1.0" stroke-linecap="round"/>
<line x1="586.2" y1="866" x2="586.7" y2="879.5" stroke-width="1.0" stroke-linecap="round"/>
<line x1="590.5" y1="866.2" x2="591" y2="878.6" stroke-width="1.0" stroke-linecap="round"/>
<line x1="594.8" y1="866.4" x2="595.3" y2="877.8" stroke-width="1.0" stroke-linecap="round"/>
<line x1="599.1" y1="866.6" x2="599.6" y2="876.9" stroke-width="1.0" stroke-linecap="round"/>
<line x1="878" y1="870.8" x2="878.5" y2="881.9" stroke-width="1.0" stroke-linecap="round"/>
<line x1="882.3" y1="870.6" x2="882.8" y2="882.8" stroke-width="1.0" stroke-linecap="round"/>
<line x1="886.6" y1="870.4" x2="887.1" y2="883.6" stroke-width="1.0" stroke-linecap="round"/>
<line x1="890.9" y1="870.2" x2="891.4" y2="884.5" stroke-width="1.0" stroke-linecap="round"/>
<line x1="895.2" y1="870" x2="895.7" y2="884.5" stroke-width="1.0" stroke-linecap="round"/>
<line x1="899.5" y1="870.2" x2="900" y2="883.6" stroke-width="1.0" stroke-linecap="round"/>
<line x1="903.8" y1="870.4" x2="904.3" y2="882.8" stroke-width="1.0" stroke-linecap="round"/>
<line x1="908.1" y1="870.6" x2="908.6" y2="881.9" stroke-width="1.0" stroke-linecap="round"/>
<path d="M618.8,416 A17.8,17.8 0 0 1 654.3,416 L604.5,856 C604,874 596,882.5 584.5,882.5 C573,882.5 564.5,875 565,860 Z" stroke-width="2.6" fill="none" />
<path d="M822.8,417 A17.7,17.7 0 0 1 858.2,417 L912.5,860 C913,877 904,887.5 893.7,887.5 C882,887.5 874,878 874.5,862 Z" stroke-width="2.6" fill="none" />
<path d="M654,426 L604.5,856" stroke-width="4.5" fill="none" />
<path d="M823.5,428 L874.5,862" stroke-width="3.8" fill="none" />
<path d="M606,480.7 L872,480.7 Q875,481 875,485 L875,514 Q875,517 872,517 L606,517 Q603.6,517 603.6,514 L603.6,484 Q603.6,480.7 606,480.7 Z" stroke-width="2.6" fill="url(#stip2)" />
<path d="M603.6,512 C601,520 601,527 605,529" stroke-width="2.4" fill="none" />
<path d="M875,512 C878,518 877,524 873,527" stroke-width="2.2" fill="none" />
<path d="M640,517 L836,517 L838,533 L640,533 Z" stroke-width="1.8" fill="url(#stip2)" />
<path d="M645,520 L700,520 L700,531 L645,531 Z" stroke-width="0" fill="url(#hatchA)" stroke="none"/>
<line x1="640" y1="533" x2="838" y2="533" stroke-width="2.2" stroke-linecap="round"/>
<path d="M733.7,517 L733.7,613 M742.6,517 L742.6,613" stroke-width="2.2" fill="none" />
<path d="M733.7,640 L733.7,888.5 M742.6,640 L742.6,893 C742.6,897 741,899 739.4,902" stroke-width="2.2" fill="none" />
<path d="M733.7,888.5 C731,895 719,900 718.8,910 C719,922 728,928 736.6,928 C746,928 754.4,920 754.4,910 C754.4,902 750,897 746,897 C742,897 740,899 739.4,900" stroke-width="2.4" fill="none" />
<circle cx="737.5" cy="909.5" r="7.5" stroke-width="2.2" fill="none"/>
<circle cx="739.5" cy="627.2" r="15" stroke-width="2.2" fill="#fff"/>
<path d="M631,624.3 L710,623.5 C716,623 720,621 726,620 C735,617.5 745,618 750,621 C756,625 760,625 775,624.7 L847.8,624.7" stroke-width="2.2" fill="none" />
<path d="M631,632.2 L705,631.5 C712,631 718,630 724,629 C732,627 742,627.5 747,629 C753,631 760,633 775,633.3 L847.8,633.3" stroke-width="2.2" fill="none" />
<polygon points="734.5,612.5 741.8,612.5 741.8,619 734.5,619" stroke-width="0" fill="#fff" stroke="none"/>
<polygon points="734.5,631 741.8,631 741.8,642 734.5,642" stroke-width="0" fill="#fff" stroke="none"/>
<path d="M733.7,611 L733.7,619 M742.6,611 L742.6,619.5 M733.7,631 L733.7,645 M742.6,631 L742.6,645" stroke-width="2.2" fill="none" />
<path d="M742.6,631 C746,630 748,632 747,634.5 C746,636 744,636 742.6,635" stroke-width="1.8" fill="none" />
<path d="M612,447 C616.7,446.8 631.7,445.7 640,445.5 C648.3,445.3 658.3,445.9 662,446" stroke-width="7" fill="none"/>
<path d="M612,447 C616.7,446.8 631.7,445.7 640,445.5 C648.3,445.3 658.3,445.9 662,446" stroke-width="2.2" stroke="#fff" stroke-dasharray="4.5,2" stroke-linecap="butt" fill="none"/>
<path d="M662,447 C667.5,447.2 684.2,448 695,448.5 C705.8,449 721.7,449.8 727,450" stroke-width="7" fill="none"/>
<path d="M662,447 C667.5,447.2 684.2,448 695,448.5 C705.8,449 721.7,449.8 727,450" stroke-width="2.2" stroke="#fff" stroke-dasharray="4.5,2" stroke-linecap="butt" fill="none"/>
<path d="M750,440 C756.7,439.9 779,439.5 790,439.5 C801,439.5 811.7,439.9 816,440" stroke-width="7" fill="none"/>
<path d="M750,440 C756.7,439.9 779,439.5 790,439.5 C801,439.5 811.7,439.9 816,440" stroke-width="2.2" stroke="#fff" stroke-dasharray="4.5,2" stroke-linecap="butt" fill="none"/>
<path d="M816,441 C820.8,440.9 837.3,440.5 845,440.5 C852.7,440.5 859.2,440.9 862,441" stroke-width="7" fill="none"/>
<path d="M816,441 C820.8,440.9 837.3,440.5 845,440.5 C852.7,440.5 859.2,440.9 862,441" stroke-width="2.2" stroke="#fff" stroke-dasharray="4.5,2" stroke-linecap="butt" fill="none"/>
<path d="M565,822 C569.2,821.8 582.2,821.2 590,821 C597.8,820.8 608.3,821 612,821" stroke-width="7" fill="none"/>
<path d="M565,822 C569.2,821.8 582.2,821.2 590,821 C597.8,820.8 608.3,821 612,821" stroke-width="2.2" stroke="#fff" stroke-dasharray="4.5,2" stroke-linecap="butt" fill="none"/>
<path d="M620,822 C630,822.1 660,822.3 680,822.5 C700,822.7 720,823.2 740,823 C760,822.8 780.3,822 800,821.5 C819.7,821 848.3,820.2 858,820" stroke-width="7" fill="none"/>
<path d="M620,822 C630,822.1 660,822.3 680,822.5 C700,822.7 720,823.2 740,823 C760,822.8 780.3,822 800,821.5 C819.7,821 848.3,820.2 858,820" stroke-width="2.2" stroke="#fff" stroke-dasharray="4.5,2" stroke-linecap="butt" fill="none"/>
<path d="M862,820 C866.7,819.9 881.8,819.6 890,819.6 C898.2,819.6 907.5,819.9 911,820" stroke-width="7" fill="none"/>
<path d="M862,820 C866.7,819.9 881.8,819.6 890,819.6 C898.2,819.6 907.5,819.9 911,820" stroke-width="2.2" stroke="#fff" stroke-dasharray="4.5,2" stroke-linecap="butt" fill="none"/>
<path d="M612,444 C610.5,443.3 608.5,446 608,448 C607.5,450 608,454.2 609,456 C610,457.8 612.7,459.7 614,459 C615.3,458.3 617.3,454.5 617,452 C616.7,449.5 613.5,444.7 612,444Z" stroke-width="2.6" fill="#111" />
<path d="M862,438 C862.8,436.7 865.5,439.3 866,441 C866.5,442.7 865.8,446.7 865,448 C864.2,449.3 861.5,450.7 861,449 C860.5,447.3 861.2,439.3 862,438Z" stroke-width="2.4" fill="#111" />
<path d="M566,820 C564.8,819.7 562.5,822.2 562,824 C561.5,825.8 562.2,829.3 563,831 C563.8,832.7 566,834.8 567,834 C568,833.2 569.2,828.3 569,826 C568.8,823.7 567.2,820.3 566,820Z" stroke-width="2.4" fill="#111" />
<path d="M910,818 C910.8,816.8 913.5,820.3 914,822 C914.5,823.7 913.8,826.8 913,828 C912.2,829.2 909.5,830.7 909,829 C908.5,827.3 909.2,819.2 910,818Z" stroke-width="2.4" fill="#111" />
<path d="M650,444 C651,443 654,439.7 656,438 C658,436.3 660,434.2 662,434 C664,433.8 666.8,434.3 668,437 C669.2,439.7 669.2,445.8 669,450 C668.8,454.2 668.5,459.5 667,462 C665.5,464.5 662.5,465.7 660,465 C657.5,464.3 653.7,461.5 652,458 C650.3,454.5 650.3,446.3 650,444 C649.7,441.7 649,445 650,444Z" stroke-width="2.4" fill="#111" />
<path d="M660,439 C660.8,436.8 663,435.7 664,437 C665,438.3 666,443.3 666,447 C666,450.7 664.8,456.8 664,459 C663.2,461.2 661.8,461.5 661,460 C660.2,458.5 659.2,453.5 659,450 C658.8,446.5 659.2,441.2 660,439Z" stroke-width="0.5" fill="#fff" />
<path d="M668,454 C669.3,454.3 673.5,455.8 676,456 C678.5,456.2 681.3,454 683,455 C684.7,456 686.5,459.8 686,462 C685.5,464.2 682,467.3 680,468 C678,468.7 676,468.3 674,466 C672,463.7 669,456 668,454 C667,452 666.7,453.7 668,454Z" stroke-width="2" fill="#fff" />
<path d="M811,437 C812,436 815,431.2 817,431 C819,430.8 821.7,433.2 823,436 C824.3,438.8 825.5,444.8 825,448 C824.5,451.2 822,454.3 820,455 C818,455.7 814.5,455 813,452 C811.5,449 811.3,439.5 811,437 C810.7,434.5 810,438 811,437Z" stroke-width="2.4" fill="#111" />
<path d="M815,437 C815.3,434.5 818,433.5 819,435 C820,436.5 821.3,443.5 821,446 C820.7,448.5 818,451.5 817,450 C816,448.5 814.7,439.5 815,437Z" stroke-width="0.5" fill="#fff" />
<path d="M816,449 C813.5,449.5 809.3,453.5 806,455 C802.7,456.5 798,456.7 796,458 C794,459.3 793.3,461.7 794,463 C794.7,464.3 797.3,466.2 800,466 C802.7,465.8 806.5,464.3 810,462 C813.5,459.7 820,454.2 821,452 C822,449.8 818.5,448.5 816,449Z" stroke-width="2" fill="#fff" />
<path d="M613,816 C614,815.2 617.2,810.8 619,811 C620.8,811.2 623.2,813.8 624,817 C624.8,820.2 624.8,826.7 624,830 C623.2,833.3 620.8,836.8 619,837 C617.2,837.2 614,834.5 613,831 C612,827.5 613,818.5 613,816 C613,813.5 612,816.8 613,816Z" stroke-width="2.4" fill="#111" />
<path d="M617,816 C617.3,813.2 619.3,812.8 620,815 C620.7,817.2 621.3,826.2 621,829 C620.7,831.8 618.7,834.2 618,832 C617.3,829.8 616.7,818.8 617,816Z" stroke-width="0.5" fill="#fff" />
<path d="M623,826 C622.3,828 626.2,833.2 628,838 C629.8,842.8 631.5,852.5 634,855 C636.5,857.5 640.7,854.5 643,853 C645.3,851.5 648.5,848.2 648,846 C647.5,843.8 642.7,843.3 640,840 C637.3,836.7 634.8,828.3 632,826 C629.2,823.7 623.7,824 623,826Z" stroke-width="2" fill="#fff" />
<path d="M856,815 C857,814.2 860,809.8 862,810 C864,810.2 867,812.7 868,816 C869,819.3 869,826.8 868,830 C867,833.2 864,835.3 862,835 C860,834.7 857,831.3 856,828 C855,824.7 856,817.2 856,815 C856,812.8 855,815.8 856,815Z" stroke-width="2.4" fill="#111" />
<path d="M860,816 C860.2,813.2 862.2,812 863,814 C863.8,816 865.2,825.2 865,828 C864.8,830.8 862.8,833 862,831 C861.2,829 859.8,818.8 860,816Z" stroke-width="0.5" fill="#fff" />
<path d="M857,825 C854.7,825.2 853.2,829.8 848,833 C842.8,836.2 829.3,841.2 826,844 C822.7,846.8 824.7,849.7 828,850 C831.3,850.3 840.3,849 846,846 C851.7,843 860.2,835.5 862,832 C863.8,828.5 859.3,824.8 857,825Z" stroke-width="2" fill="#fff" />
<path d="M735,817 C736.5,816.8 742,814.8 744,816 C746,817.2 747,821.5 747,824 C747,826.5 746,829.8 744,831 C742,832.2 737,832.2 735,831 C733,829.8 732,826.3 732,824 C732,821.7 734.5,818.2 735,817 C735.5,815.8 733.5,817.2 735,817Z" stroke-width="2" fill="#fff" />
<path d="M1004.5,13 Q1004.5,9.6 1008,9.6 L1012.5,9.6 Q1016,9.6 1016,13 L1016,926 Q1016,928.4 1013.5,928.4 L1007,928.4 Q1004.5,928.4 1004.5,926 Z" stroke-width="2.4" fill="#fff" />
<path d="M1009.5,152.5 C1010.6,152.5 1011.7,153.7 1012.5,155 C1013.3,156.3 1013.4,155.3 1014.5,160.5 C1015.6,165.7 1019.1,177.4 1019,186 C1018.9,194.6 1015.2,206.7 1014,212.1 C1012.8,217.5 1012.5,217.3 1011.5,218.6 C1010.5,219.9 1009.1,220.4 1008,220.1 C1006.9,219.8 1006,218.6 1005,216.6 C1004,214.6 1003.1,213.2 1002,208.1 C1000.9,203 998.3,193.3 998.4,186 C998.5,178.7 1001.2,169.7 1002.5,164.5 C1003.8,159.3 1004.8,157 1006,155 C1007.2,153 1008.4,152.5 1009.5,152.5Z" stroke-width="1.8" fill="#fff" />
<path d="M1015.7,155.5 C1016.3,157.5 1018.4,162.4 1019.5,167.5 C1020.6,172.6 1022.4,179.6 1022.4,186 C1022.4,192.4 1020.6,200.9 1019.5,206.1 C1018.4,211.3 1016.3,215.3 1015.7,217.1" stroke-width="1.8" fill="none" />
<ellipse cx="1009" cy="184.5" rx="4.3" ry="6.3" stroke-width="1.6" fill="#fff"/>
<ellipse cx="1010.3" cy="185" rx="2.2" ry="4.2" stroke-width="1.2" fill="none"/>
<path d="M1009.5,310 C1010.6,310 1011.7,311.2 1012.5,312.5 C1013.3,313.8 1013.4,313.3 1014.5,318 C1015.6,322.7 1019.1,332.7 1019,340.5 C1018.9,348.3 1015.2,359.7 1014,364.8 C1012.8,369.9 1012.5,370 1011.5,371.3 C1010.5,372.6 1009.1,373.1 1008,372.8 C1006.9,372.5 1006,371.3 1005,369.3 C1004,367.3 1003.1,365.6 1002,360.8 C1000.9,356 998.3,347 998.4,340.5 C998.5,334 1001.2,326.7 1002.5,322 C1003.8,317.3 1004.8,314.5 1006,312.5 C1007.2,310.5 1008.4,310 1009.5,310Z" stroke-width="1.8" fill="#fff" />
<path d="M1015.7,313 C1016.3,315 1018.4,320.4 1019.5,325 C1020.6,329.6 1022.4,334.9 1022.4,340.5 C1022.4,346.1 1020.6,353.9 1019.5,358.8 C1018.4,363.7 1016.3,368 1015.7,369.8" stroke-width="1.8" fill="none" />
<ellipse cx="1007.3" cy="339.0" rx="4.3" ry="6.3" stroke-width="1.6" fill="#fff"/>
<ellipse cx="1008.5999999999999" cy="339.5" rx="2.2" ry="4.2" stroke-width="1.2" fill="none"/>
<circle cx="1009" cy="844" r="20.2" stroke-width="1.8" fill="none" stroke-dasharray="4.5,3.5" stroke-linecap="butt"/>
<circle cx="1009" cy="844" r="9.3" stroke-width="1.6" fill="none" stroke-dasharray="3.5,3" stroke-linecap="butt"/>
<line x1="979.3" y1="10" x2="979.3" y2="465.4" stroke-width="1.92" stroke-linecap="round"/>
<line x1="979.1" y1="519.2" x2="979.1" y2="928" stroke-width="1.92" stroke-linecap="round"/>
<line x1="979.3" y1="10.5" x2="982.8" y2="17.7" stroke-width="2.16" stroke-linecap="round"/>
<line x1="979.3" y1="10.5" x2="975.8" y2="17.7" stroke-width="2.16" stroke-linecap="round"/>
<line x1="979.1" y1="927.5" x2="975.6" y2="920.3" stroke-width="2.16" stroke-linecap="round"/>
<line x1="979.1" y1="927.5" x2="982.6" y2="920.3" stroke-width="2.16" stroke-linecap="round"/>
<line x1="962" y1="9.6" x2="993" y2="9.6" stroke-width="2.16" stroke-linecap="round"/>
<line x1="997" y1="9.6" x2="1002" y2="9.6" stroke-width="2.16" stroke-linecap="round"/>
<line x1="965" y1="928.4" x2="992" y2="928.4" stroke-width="2.16" stroke-linecap="round"/>
<line x1="996" y1="928.4" x2="1001" y2="928.4" stroke-width="2.16" stroke-linecap="round"/>
<line x1="971.3" y1="405.4" x2="1003.5" y2="405.4" stroke-width="1.92" stroke-linecap="round"/>
<line x1="1003.5" y1="405.4" x2="996.3" y2="408.9" stroke-width="2.16" stroke-linecap="round"/>
<line x1="1003.5" y1="405.4" x2="996.3" y2="401.9" stroke-width="2.16" stroke-linecap="round"/>
<line x1="1032.4" y1="405.4" x2="1016.8" y2="405.4" stroke-width="1.92" stroke-linecap="round"/>
<line x1="1016.8" y1="405.4" x2="1024" y2="401.9" stroke-width="2.16" stroke-linecap="round"/>
<line x1="1016.8" y1="405.4" x2="1024" y2="408.9" stroke-width="2.16" stroke-linecap="round"/>
<line x1="956.4" y1="388.8" x2="956.4" y2="398.8" stroke-width="2.6" stroke-linecap="round"/>
<line x1="964.5" y1="384" x2="963" y2="388.2" stroke-width="2" stroke-linecap="round"/>
<line x1="969" y1="384" x2="967.5" y2="388.2" stroke-width="2" stroke-linecap="round"/>
<line x1="953" y1="404.4" x2="963" y2="404.4" stroke-width="2" stroke-linecap="round"/>
<text transform="translate(951.2,422) scale(1.242,1)" font-size="20.56" stroke-width="0.6">8</text>
<text transform="translate(986.4,506.5) rotate(-90) scale(1.065,1)" font-size="22.82" stroke-width="0.6">9</text>
<line x1="963.4" y1="485.2" x2="974.6" y2="485.2" stroke-width="2.6" stroke-linecap="round"/>
<line x1="979.5" y1="478.1" x2="979.5" y2="489.3" stroke-width="2.16" stroke-linecap="round"/>
<text transform="translate(995.2,490.6) rotate(-90) scale(1.348,1)" font-size="17.29" stroke-width="0.6">2</text>
<line x1="959.3" y1="465.6" x2="966.4" y2="467" stroke-width="2.6" stroke-linecap="round"/>
<line x1="959.3" y1="471.4" x2="966.4" y2="472.8" stroke-width="2.6" stroke-linecap="round"/>
<path d="M1162,14 Q1162,9 1167,9 L1170,9 Q1175,9 1175,14 L1173.7,320 Q1173.7,325.2 1168.5,325.2 L1165.5,325.2 Q1160.4,325.2 1160.4,320 Z" stroke-width="2.2" fill="#fff" />
<line x1="1162" y1="36.4" x2="1175" y2="36.4" stroke-width="1.8" stroke-linecap="butt" stroke-dasharray="3,2"/>
<line x1="1160.4" y1="297.8" x2="1173.7" y2="297.8" stroke-width="1.8" stroke-linecap="butt" stroke-dasharray="3,2"/>
<circle cx="1168.6" cy="166.9" r="22.3" stroke-width="1.6" fill="none" stroke-dasharray="3.5,3" stroke-linecap="butt"/>
<circle cx="1169.7" cy="164.6" r="10.5" stroke-width="1.4" fill="none" stroke-dasharray="3,2.5" stroke-linecap="butt"/>
<line x1="1120.3" y1="10" x2="1120.3" y2="140.1" stroke-width="1.92" stroke-linecap="round"/>
<line x1="1119.6" y1="189.7" x2="1119.3" y2="322.5" stroke-width="1.92" stroke-linecap="round"/>
<line x1="1120.3" y1="10.5" x2="1123.8" y2="17.7" stroke-width="2.16" stroke-linecap="round"/>
<line x1="1120.3" y1="10.5" x2="1116.8" y2="17.7" stroke-width="2.16" stroke-linecap="round"/>
<line x1="1119.3" y1="322" x2="1115.8" y2="314.8" stroke-width="2.16" stroke-linecap="round"/>
<line x1="1119.3" y1="322" x2="1122.8" y2="314.8" stroke-width="2.16" stroke-linecap="round"/>
<line x1="1119.3" y1="293.5" x2="1119.3" y2="293.5" stroke-width="2" stroke-linecap="round"/>
<line x1="1104" y1="9" x2="1143" y2="9" stroke-width="2.16" stroke-linecap="round"/>
<line x1="1149" y1="9" x2="1156" y2="9" stroke-width="2.16" stroke-linecap="round"/>
<line x1="1104" y1="322.9" x2="1148" y2="322.9" stroke-width="2.16" stroke-linecap="round"/>
<line x1="1152" y1="322.9" x2="1158" y2="322.9" stroke-width="2.16" stroke-linecap="round"/>
<text transform="translate(1127.3,180) rotate(-90) scale(1.116,1)" font-size="22.82" stroke-width="0.6">3</text>
<line x1="1103.2" y1="155.7" x2="1114.8" y2="155.7" stroke-width="2.6" stroke-linecap="round"/>
<line x1="1119.6" y1="149" x2="1119.6" y2="161.3" stroke-width="2.16" stroke-linecap="round"/>
<text transform="translate(1137.2,163.9) rotate(-90) scale(1.765,1)" font-size="17.39" stroke-width="0.6">4</text>
<line x1="1101.7" y1="140.8" x2="1108.4" y2="142" stroke-width="2.6" stroke-linecap="round"/>
<line x1="1101.7" y1="146.8" x2="1108.4" y2="148" stroke-width="2.6" stroke-linecap="round"/>
<polygon points="1400,9 1442,17 1449,24 1147,536 1147,536 1100,514" stroke-width="0" fill="#fff" stroke="none"/>
<polygon points="1442,17 1458,37 1166,549 1147,536 1449,24" stroke-width="0" fill="#fff" stroke="none"/>
<g clip-path="url(#cLF)">
<path d="M1268.8,233.1 C1269.9,231.7 1273,227.6 1275,224.8 C1277.1,222.1 1279.1,219.4 1281.1,216.7 C1283.1,214 1285.1,211.4 1287.1,208.7 C1289.1,206.1 1291,203.5 1293,200.9 C1294.9,198.3 1296.8,195.7 1298.7,193.1 C1300.6,190.6 1302.5,188.1 1304.4,185.6 C1306.2,183.1 1308.1,180.6 1309.9,178.2 C1311.7,175.8 1313.5,173.3 1315.3,171 C1317.1,168.6 1318.9,166.2 1320.6,163.9 C1322.3,161.6 1324,159.3 1325.7,157.1 C1327.4,154.8 1329.1,152.6 1330.7,150.4 C1332.3,148.2 1333.9,146.1 1335.5,144 C1337.1,141.9 1338.6,139.8 1340.1,137.8 C1341.7,135.7 1343.1,133.8 1344.6,131.8 C1346,129.9 1347.4,128 1348.8,126.2 C1350.2,124.4 1351.5,122.6 1352.8,120.9 C1354.1,119.2 1355.3,117.5 1356.5,115.9 C1357.7,114.4 1358.7,112.8 1359.9,111.6 C1361.1,110.3 1362.4,109.1 1363.7,108.3 C1365,107.5 1366.9,106.4 1367.7,106.9 C1368.4,107.3 1368.2,109.4 1368.1,110.9 C1368,112.4 1367.5,114 1366.9,115.7 C1366.2,117.3 1365.3,118.9 1364.4,120.6 C1363.5,122.3 1362.4,124.1 1361.4,126 C1360.4,127.8 1359.3,129.8 1358.2,131.8 C1357.1,133.8 1356,135.8 1354.9,137.9 C1353.7,140 1352.5,142.2 1351.3,144.4 C1350.1,146.6 1348.9,148.9 1347.6,151.1 C1346.3,153.4 1345,155.8 1343.7,158.2 C1342.4,160.5 1341.1,162.9 1339.8,165.4 C1338.4,167.9 1337,170.3 1335.6,172.9 C1334.3,175.4 1332.9,178 1331.4,180.5 C1330,183.1 1328.6,185.8 1327.1,188.4 C1325.6,191.1 1324.2,193.8 1322.7,196.5 C1321.2,199.2 1319.7,201.9 1318.2,204.7 C1316.6,207.5 1315.1,210.3 1313.5,213.1 C1312,215.9 1310.4,218.8 1308.8,221.6 C1307.3,224.5 1305.7,227.4 1304,230.3 C1302.4,233.3 1300.8,236.2 1299.2,239.2 C1297.5,242.2 1295.1,246.7 1294.2,248.2" stroke-width="1.2" fill="none" />
<path d="M1269.4,219.5 C1270.5,218 1273.7,213.7 1275.9,210.8 C1278,207.9 1280.1,205.1 1282.3,202.2 C1284.4,199.4 1286.5,196.6 1288.5,193.8 C1290.6,191.1 1292.7,188.3 1294.7,185.6 C1296.7,182.9 1298.8,180.2 1300.8,177.5 C1302.8,174.8 1304.7,172.2 1306.7,169.6 C1308.7,166.9 1310.6,164.4 1312.5,161.8 C1314.4,159.2 1316.3,156.7 1318.2,154.2 C1320.1,151.7 1321.9,149.2 1323.7,146.8 C1325.5,144.4 1327.3,142 1329.1,139.6 C1330.9,137.2 1332.6,134.9 1334.3,132.6 C1336.1,130.3 1337.8,128.1 1339.4,125.8 C1341.1,123.6 1342.7,121.5 1344.3,119.3 C1345.9,117.2 1347.4,115.1 1348.9,113.1 C1350.5,111.1 1351.9,109.1 1353.4,107.2 C1354.8,105.2 1356.1,103.3 1357.6,101.6 C1359,99.8 1360.4,98.2 1362,96.7 C1363.6,95.3 1365.3,94 1367,92.9 C1368.6,91.8 1370.1,90.6 1371.9,90.1 C1373.7,89.5 1376.5,88.9 1377.9,89.7 C1379.2,90.5 1379.7,93.1 1379.9,94.9 C1380.2,96.7 1379.8,98.5 1379.6,100.4 C1379.3,102.4 1379,104.5 1378.4,106.5 C1377.8,108.5 1376.9,110.5 1376,112.5 C1375,114.5 1373.8,116.5 1372.6,118.6 C1371.5,120.7 1370.3,122.8 1369.1,125.1 C1367.9,127.3 1366.6,129.5 1365.3,131.8 C1364.1,134.2 1362.8,136.5 1361.4,138.9 C1360.1,141.3 1358.8,143.8 1357.4,146.3 C1356,148.8 1354.6,151.3 1353.2,153.9 C1351.8,156.5 1350.3,159.1 1348.9,161.8 C1347.4,164.4 1346,167.1 1344.5,169.8 C1343,172.5 1341.4,175.3 1339.9,178.1 C1338.4,180.9 1336.8,183.7 1335.3,186.5 C1333.7,189.4 1332.1,192.3 1330.5,195.2 C1328.9,198.1 1327.3,201 1325.7,204 C1324,207 1322.4,210 1320.7,213 C1319.1,216 1317.4,219 1315.7,222.1 C1314,225.2 1312.3,228.3 1310.6,231.4 C1308.9,234.5 1306.3,239.3 1305.4,240.9" stroke-width="1.2" fill="none" />
<path d="M1237.6,286.6 C1238.7,285.2 1241.8,281.1 1243.8,278.4 C1245.9,275.6 1247.9,272.9 1249.9,270.2 C1251.9,267.5 1253.9,264.9 1255.9,262.2 C1257.9,259.6 1259.8,257 1261.8,254.4 C1263.7,251.8 1265.6,249.2 1267.5,246.7 C1269.4,244.1 1271.3,241.6 1273.2,239.1 C1275,236.6 1276.9,234.2 1278.7,231.7 C1280.5,229.3 1282.3,226.9 1284.1,224.5 C1285.9,222.1 1287.7,219.8 1289.4,217.4 C1291.1,215.1 1292.8,212.8 1294.5,210.6 C1296.2,208.3 1297.9,206.1 1299.5,203.9 C1301.1,201.7 1302.7,199.6 1304.3,197.5 C1305.9,195.4 1307.4,193.3 1309,191.3 C1310.5,189.3 1312,187.3 1313.4,185.4 C1314.8,183.4 1316.3,181.5 1317.6,179.7 C1319,177.9 1320.3,176.1 1321.6,174.4 C1322.9,172.7 1324.1,171 1325.3,169.5 C1326.5,167.9 1327.6,166.4 1328.8,165.1 C1330,163.8 1331.2,162.6 1332.5,161.8 C1333.8,161 1335.7,160 1336.5,160.4 C1337.2,160.8 1337,163 1336.9,164.4 C1336.8,165.9 1336.3,167.6 1335.7,169.2 C1335.1,170.8 1334.1,172.4 1333.2,174.1 C1332.3,175.9 1331.3,177.7 1330.2,179.5 C1329.2,181.4 1328.1,183.3 1327,185.3 C1326,187.3 1324.8,189.3 1323.7,191.5 C1322.5,193.6 1321.3,195.7 1320.1,197.9 C1318.9,200.1 1317.7,202.4 1316.4,204.7 C1315.1,207 1313.9,209.3 1312.5,211.7 C1311.2,214.1 1309.9,216.5 1308.6,218.9 C1307.2,221.4 1305.8,223.9 1304.5,226.4 C1303.1,228.9 1301.7,231.5 1300.2,234.1 C1298.8,236.7 1297.4,239.3 1295.9,241.9 C1294.4,244.6 1293,247.3 1291.5,250 C1290,252.7 1288.5,255.4 1287,258.2 C1285.4,261 1283.9,263.8 1282.3,266.6 C1280.8,269.4 1279.2,272.3 1277.6,275.2 C1276.1,278 1274.5,280.9 1272.9,283.9 C1271.2,286.8 1269.6,289.7 1268,292.7 C1266.4,295.7 1263.9,300.2 1263,301.7" stroke-width="1.2" fill="none" />
<path d="M1238.2,273 C1239.3,271.5 1242.5,267.2 1244.7,264.3 C1246.8,261.4 1248.9,258.6 1251.1,255.8 C1253.2,252.9 1255.3,250.1 1257.3,247.4 C1259.4,244.6 1261.5,241.8 1263.5,239.1 C1265.5,236.4 1267.6,233.7 1269.6,231 C1271.6,228.4 1273.5,225.7 1275.5,223.1 C1277.5,220.5 1279.4,217.9 1281.3,215.3 C1283.2,212.8 1285.1,210.2 1287,207.7 C1288.9,205.2 1290.7,202.8 1292.5,200.3 C1294.4,197.9 1296.2,195.5 1297.9,193.1 C1299.7,190.8 1301.4,188.4 1303.2,186.1 C1304.9,183.8 1306.6,181.6 1308.2,179.4 C1309.9,177.2 1311.5,175 1313.1,172.9 C1314.7,170.7 1316.2,168.6 1317.7,166.6 C1319.3,164.6 1320.8,162.6 1322.2,160.7 C1323.6,158.8 1324.9,156.8 1326.4,155.1 C1327.8,153.4 1329.2,151.7 1330.8,150.3 C1332.4,148.8 1334.1,147.6 1335.8,146.5 C1337.4,145.3 1338.9,144.2 1340.7,143.6 C1342.5,143.1 1345.3,142.4 1346.7,143.2 C1348,144 1348.5,146.6 1348.7,148.4 C1349,150.2 1348.6,152 1348.4,153.9 C1348.1,155.9 1347.8,158 1347.2,160 C1346.6,162 1345.7,164 1344.8,166 C1343.8,168.1 1342.6,170 1341.4,172.1 C1340.3,174.2 1339.1,176.4 1337.9,178.6 C1336.7,180.8 1335.4,183.1 1334.1,185.4 C1332.9,187.7 1331.6,190 1330.2,192.5 C1328.9,194.9 1327.6,197.3 1326.2,199.8 C1324.8,202.3 1323.4,204.9 1322,207.4 C1320.6,210 1319.2,212.6 1317.7,215.3 C1316.2,217.9 1314.8,220.6 1313.3,223.3 C1311.8,226.1 1310.3,228.8 1308.7,231.6 C1307.2,234.4 1305.6,237.2 1304.1,240.1 C1302.5,242.9 1300.9,245.8 1299.3,248.7 C1297.7,251.6 1296.1,254.5 1294.5,257.5 C1292.8,260.5 1291.2,263.5 1289.5,266.5 C1287.9,269.5 1286.2,272.6 1284.5,275.6 C1282.8,278.7 1281.1,281.8 1279.4,284.9 C1277.7,288.1 1275.1,292.8 1274.2,294.4" stroke-width="1.2" fill="none" />
<path d="M1203.4,345.2 C1204.5,343.8 1207.6,339.7 1209.6,337 C1211.7,334.2 1213.7,331.5 1215.7,328.8 C1217.7,326.1 1219.7,323.5 1221.7,320.8 C1223.6,318.2 1225.6,315.6 1227.5,313 C1229.5,310.4 1231.4,307.8 1233.3,305.3 C1235.2,302.7 1237.1,300.2 1239,297.7 C1240.8,295.2 1242.7,292.7 1244.5,290.3 C1246.3,287.9 1248.1,285.5 1249.9,283.1 C1251.7,280.7 1253.4,278.4 1255.2,276 C1256.9,273.7 1258.6,271.4 1260.3,269.2 C1262,266.9 1263.7,264.7 1265.3,262.5 C1266.9,260.3 1268.5,258.2 1270.1,256.1 C1271.7,254 1273.2,251.9 1274.7,249.9 C1276.3,247.9 1277.7,245.9 1279.2,243.9 C1280.6,242 1282,240.1 1283.4,238.3 C1284.8,236.5 1286.1,234.7 1287.4,233 C1288.7,231.3 1289.9,229.6 1291.1,228.1 C1292.3,226.5 1293.3,225 1294.5,223.7 C1295.7,222.4 1297,221.2 1298.3,220.4 C1299.6,219.6 1301.5,218.6 1302.3,219 C1303,219.4 1302.8,221.5 1302.7,223 C1302.6,224.5 1302.1,226.2 1301.5,227.8 C1300.8,229.4 1299.9,231 1299,232.7 C1298.1,234.5 1297,236.2 1296,238.1 C1295,240 1293.9,241.9 1292.8,243.9 C1291.7,245.9 1290.6,247.9 1289.5,250 C1288.3,252.1 1287.1,254.3 1285.9,256.5 C1284.7,258.7 1283.5,261 1282.2,263.3 C1280.9,265.6 1279.6,267.9 1278.3,270.3 C1277,272.6 1275.7,275.1 1274.4,277.5 C1273,280 1271.6,282.5 1270.2,285 C1268.9,287.5 1267.5,290.1 1266,292.7 C1264.6,295.2 1263.2,297.9 1261.7,300.5 C1260.2,303.2 1258.8,305.9 1257.3,308.6 C1255.8,311.3 1254.3,314 1252.7,316.8 C1251.2,319.6 1249.7,322.4 1248.1,325.2 C1246.6,328 1245,330.9 1243.4,333.8 C1241.9,336.6 1240.3,339.5 1238.6,342.5 C1237,345.4 1235.4,348.3 1233.8,351.3 C1232.1,354.3 1229.7,358.8 1228.8,360.3" stroke-width="1.2" fill="none" />
<path d="M1204,331.6 C1205.1,330.1 1208.3,325.8 1210.5,322.9 C1212.6,320 1214.7,317.2 1216.8,314.4 C1219,311.5 1221.1,308.7 1223.1,306 C1225.2,303.2 1227.3,300.4 1229.3,297.7 C1231.3,295 1233.4,292.3 1235.4,289.6 C1237.4,286.9 1239.3,284.3 1241.3,281.7 C1243.3,279.1 1245.2,276.5 1247.1,273.9 C1249,271.4 1250.9,268.8 1252.8,266.3 C1254.7,263.8 1256.5,261.4 1258.3,258.9 C1260.1,256.5 1261.9,254.1 1263.7,251.7 C1265.5,249.4 1267.2,247 1268.9,244.7 C1270.7,242.4 1272.3,240.2 1274,238 C1275.7,235.8 1277.3,233.6 1278.9,231.5 C1280.5,229.3 1282,227.2 1283.5,225.2 C1285.1,223.2 1286.5,221.2 1288,219.3 C1289.4,217.4 1290.7,215.4 1292.2,213.7 C1293.6,212 1295,210.3 1296.6,208.9 C1298.2,207.4 1299.9,206.2 1301.6,205 C1303.2,203.9 1304.7,202.7 1306.5,202.2 C1308.3,201.7 1311.1,201 1312.5,201.8 C1313.8,202.6 1314.3,205.2 1314.5,207 C1314.8,208.8 1314.4,210.6 1314.2,212.5 C1313.9,214.5 1313.6,216.6 1313,218.6 C1312.4,220.6 1311.5,222.6 1310.6,224.6 C1309.6,226.6 1308.4,228.6 1307.2,230.7 C1306.1,232.8 1304.9,235 1303.7,237.2 C1302.5,239.4 1301.2,241.6 1299.9,244 C1298.7,246.3 1297.4,248.6 1296,251.1 C1294.7,253.5 1293.4,255.9 1292,258.4 C1290.6,260.9 1289.2,263.4 1287.8,266 C1286.4,268.6 1284.9,271.2 1283.5,273.9 C1282,276.5 1280.6,279.2 1279.1,281.9 C1277.6,284.6 1276,287.4 1274.5,290.2 C1273,293 1271.4,295.8 1269.9,298.6 C1268.3,301.5 1266.7,304.4 1265.1,307.3 C1263.5,310.2 1261.9,313.1 1260.3,316.1 C1258.6,319.1 1257,322.1 1255.3,325.1 C1253.7,328.1 1252,331.2 1250.3,334.2 C1248.6,337.3 1246.9,340.4 1245.2,343.5 C1243.5,346.7 1240.9,351.4 1240,353" stroke-width="1.2" fill="none" />
<path d="M1157.5,417.4 C1158.6,416.1 1161.7,411.9 1163.7,409.2 C1165.7,406.5 1167.8,403.7 1169.8,401.1 C1171.8,398.4 1173.8,395.7 1175.8,393.1 C1177.7,390.4 1179.7,387.8 1181.6,385.2 C1183.6,382.6 1185.5,380 1187.4,377.5 C1189.3,374.9 1191.2,372.4 1193.1,369.9 C1194.9,367.4 1196.8,365 1198.6,362.5 C1200.4,360.1 1202.2,357.7 1204,355.3 C1205.8,352.9 1207.5,350.6 1209.3,348.3 C1211,345.9 1212.7,343.7 1214.4,341.4 C1216.1,339.2 1217.8,336.9 1219.4,334.8 C1221,332.6 1222.6,330.4 1224.2,328.3 C1225.8,326.2 1227.3,324.1 1228.8,322.1 C1230.4,320.1 1231.8,318.1 1233.3,316.2 C1234.7,314.2 1236.1,312.4 1237.5,310.5 C1238.9,308.7 1240.2,306.9 1241.5,305.2 C1242.8,303.5 1244,301.8 1245.2,300.3 C1246.4,298.7 1247.4,297.2 1248.6,295.9 C1249.8,294.6 1251.1,293.4 1252.4,292.6 C1253.7,291.8 1255.6,290.8 1256.3,291.2 C1257.1,291.7 1256.9,293.8 1256.8,295.2 C1256.7,296.7 1256.2,298.4 1255.6,300 C1254.9,301.6 1254,303.2 1253.1,305 C1252.2,306.7 1251.1,308.5 1250.1,310.3 C1249.1,312.2 1248,314.1 1246.9,316.1 C1245.8,318.1 1244.7,320.2 1243.5,322.3 C1242.4,324.4 1241.2,326.5 1240,328.7 C1238.8,330.9 1237.5,333.2 1236.3,335.5 C1235,337.8 1233.7,340.1 1232.4,342.5 C1231.1,344.9 1229.8,347.3 1228.4,349.7 C1227.1,352.2 1225.7,354.7 1224.3,357.2 C1223,359.7 1221.5,362.3 1220.1,364.9 C1218.7,367.5 1217.3,370.1 1215.8,372.8 C1214.3,375.4 1212.9,378.1 1211.4,380.8 C1209.9,383.5 1208.4,386.3 1206.8,389 C1205.3,391.8 1203.8,394.6 1202.2,397.4 C1200.7,400.3 1199.1,403.1 1197.5,406 C1195.9,408.9 1194.3,411.8 1192.7,414.7 C1191.1,417.6 1189.5,420.6 1187.9,423.5 C1186.2,426.5 1183.8,431 1182.9,432.5" stroke-width="1.2" fill="none" />
<path d="M1158.1,403.8 C1159.1,402.4 1162.4,398 1164.6,395.1 C1166.7,392.3 1168.8,389.4 1170.9,386.6 C1173.1,383.8 1175.1,381 1177.2,378.2 C1179.3,375.4 1181.4,372.7 1183.4,369.9 C1185.4,367.2 1187.5,364.5 1189.5,361.8 C1191.5,359.2 1193.4,356.5 1195.4,353.9 C1197.3,351.3 1199.3,348.7 1201.2,346.1 C1203.1,343.6 1205,341.1 1206.9,338.6 C1208.7,336.1 1210.6,333.6 1212.4,331.1 C1214.2,328.7 1216,326.3 1217.8,323.9 C1219.6,321.6 1221.3,319.2 1223,317 C1224.8,314.7 1226.4,312.4 1228.1,310.2 C1229.8,308 1231.4,305.8 1233,303.7 C1234.6,301.6 1236.1,299.5 1237.6,297.4 C1239.2,295.4 1240.6,293.4 1242.1,291.5 C1243.5,289.6 1244.8,287.7 1246.2,285.9 C1247.7,284.2 1249.1,282.5 1250.7,281.1 C1252.3,279.6 1254,278.4 1255.7,277.3 C1257.3,276.2 1258.8,275 1260.6,274.4 C1262.4,273.9 1265.2,273.2 1266.6,274 C1267.9,274.8 1268.3,277.4 1268.6,279.2 C1268.9,281 1268.5,282.8 1268.3,284.8 C1268,286.7 1267.7,288.8 1267.1,290.8 C1266.5,292.8 1265.6,294.8 1264.7,296.9 C1263.7,298.9 1262.5,300.8 1261.3,302.9 C1260.2,305 1259,307.2 1257.8,309.4 C1256.5,311.6 1255.3,313.9 1254,316.2 C1252.8,318.5 1251.4,320.9 1250.1,323.3 C1248.8,325.7 1247.4,328.1 1246.1,330.6 C1244.7,333.1 1243.3,335.7 1241.9,338.3 C1240.5,340.8 1239,343.4 1237.6,346.1 C1236.1,348.7 1234.6,351.4 1233.1,354.2 C1231.7,356.9 1230.1,359.6 1228.6,362.4 C1227.1,365.2 1225.5,368 1224,370.9 C1222.4,373.7 1220.8,376.6 1219.2,379.5 C1217.6,382.4 1216,385.4 1214.4,388.3 C1212.7,391.3 1211.1,394.3 1209.4,397.3 C1207.8,400.3 1206.1,403.4 1204.4,406.5 C1202.7,409.5 1201,412.6 1199.3,415.8 C1197.6,418.9 1195,423.6 1194.1,425.2" stroke-width="1.2" fill="none" />
<path d="M1121.6,481.9 C1122.7,480.5 1125.8,476.4 1127.8,473.6 C1129.9,470.9 1131.9,468.2 1133.9,465.5 C1135.9,462.8 1137.9,460.2 1139.9,457.5 C1141.9,454.9 1143.8,452.3 1145.8,449.7 C1147.7,447.1 1149.6,444.5 1151.5,442 C1153.4,439.4 1155.3,436.9 1157.2,434.4 C1159,431.9 1160.9,429.4 1162.7,427 C1164.5,424.6 1166.3,422.2 1168.1,419.8 C1169.9,417.4 1171.7,415 1173.4,412.7 C1175.1,410.4 1176.8,408.1 1178.5,405.9 C1180.2,403.6 1181.9,401.4 1183.5,399.2 C1185.1,397 1186.7,394.9 1188.3,392.8 C1189.9,390.7 1191.4,388.6 1192.9,386.6 C1194.5,384.5 1195.9,382.6 1197.4,380.6 C1198.8,378.7 1200.2,376.8 1201.6,375 C1203,373.2 1204.3,371.4 1205.6,369.7 C1206.9,368 1208.1,366.3 1209.3,364.7 C1210.5,363.2 1211.5,361.6 1212.7,360.4 C1213.9,359.1 1215.2,357.9 1216.5,357.1 C1217.8,356.3 1219.7,355.2 1220.5,355.7 C1221.2,356.1 1221,358.2 1220.9,359.7 C1220.8,361.2 1220.3,362.9 1219.7,364.5 C1219,366.1 1218.1,367.7 1217.2,369.4 C1216.3,371.1 1215.2,372.9 1214.2,374.8 C1213.2,376.7 1212.1,378.6 1211,380.6 C1209.9,382.6 1208.8,384.6 1207.7,386.7 C1206.5,388.8 1205.3,391 1204.1,393.2 C1202.9,395.4 1201.7,397.7 1200.4,399.9 C1199.1,402.2 1197.8,404.6 1196.5,407 C1195.2,409.3 1193.9,411.8 1192.6,414.2 C1191.2,416.7 1189.8,419.1 1188.4,421.7 C1187.1,424.2 1185.7,426.8 1184.2,429.3 C1182.8,431.9 1181.4,434.6 1179.9,437.2 C1178.4,439.9 1177,442.6 1175.5,445.3 C1174,448 1172.5,450.7 1171,453.5 C1169.4,456.3 1167.9,459.1 1166.3,461.9 C1164.8,464.7 1163.2,467.6 1161.6,470.4 C1160.1,473.3 1158.5,476.2 1156.8,479.1 C1155.2,482.1 1153.6,485 1152,488 C1150.3,491 1147.9,495.5 1147,497" stroke-width="1.2" fill="none" />
<path d="M1122.2,468.3 C1123.3,466.8 1126.5,462.5 1128.7,459.6 C1130.8,456.7 1132.9,453.9 1135.1,451 C1137.2,448.2 1139.3,445.4 1141.3,442.7 C1143.4,439.9 1145.5,437.1 1147.5,434.4 C1149.5,431.7 1151.6,429 1153.6,426.3 C1155.6,423.6 1157.5,421 1159.5,418.4 C1161.5,415.8 1163.4,413.2 1165.3,410.6 C1167.2,408 1169.1,405.5 1171,403 C1172.9,400.5 1174.7,398 1176.5,395.6 C1178.4,393.2 1180.1,390.8 1181.9,388.4 C1183.7,386 1185.4,383.7 1187.1,381.4 C1188.9,379.1 1190.6,376.9 1192.2,374.7 C1193.9,372.4 1195.5,370.3 1197.1,368.1 C1198.7,366 1200.2,363.9 1201.7,361.9 C1203.3,359.9 1204.7,357.9 1206.2,356 C1207.6,354 1208.9,352.1 1210.4,350.4 C1211.8,348.6 1213.2,347 1214.8,345.5 C1216.4,344.1 1218.1,342.8 1219.8,341.7 C1221.4,340.6 1222.9,339.4 1224.7,338.9 C1226.5,338.3 1229.3,337.7 1230.7,338.5 C1232,339.3 1232.5,341.9 1232.7,343.7 C1233,345.5 1232.6,347.3 1232.4,349.2 C1232.1,351.2 1231.8,353.3 1231.2,355.3 C1230.6,357.3 1229.7,359.3 1228.8,361.3 C1227.8,363.3 1226.6,365.3 1225.4,367.4 C1224.3,369.5 1223.1,371.6 1221.9,373.9 C1220.7,376.1 1219.4,378.3 1218.1,380.6 C1216.9,383 1215.6,385.3 1214.2,387.7 C1212.9,390.1 1211.6,392.6 1210.2,395.1 C1208.8,397.6 1207.4,400.1 1206,402.7 C1204.6,405.3 1203.1,407.9 1201.7,410.6 C1200.2,413.2 1198.8,415.9 1197.3,418.6 C1195.8,421.3 1194.2,424.1 1192.7,426.9 C1191.2,429.7 1189.6,432.5 1188.1,435.3 C1186.5,438.2 1184.9,441.1 1183.3,444 C1181.7,446.9 1180.1,449.8 1178.5,452.8 C1176.8,455.8 1175.2,458.8 1173.5,461.8 C1171.9,464.8 1170.2,467.8 1168.5,470.9 C1166.8,474 1165.1,477.1 1163.4,480.2 C1161.7,483.3 1159.1,488.1 1158.2,489.7" stroke-width="1.2" fill="none" />
<path d="M1086.1,539.7 C1087.1,538.3 1090.2,534.2 1092.3,531.4 C1094.3,528.7 1096.3,526 1098.4,523.3 C1100.4,520.6 1102.4,518 1104.3,515.3 C1106.3,512.7 1108.3,510.1 1110.2,507.5 C1112.2,504.9 1114.1,502.3 1116,499.8 C1117.9,497.2 1119.8,494.7 1121.6,492.2 C1123.5,489.7 1125.3,487.2 1127.2,484.8 C1129,482.4 1130.8,480 1132.6,477.6 C1134.4,475.2 1136.1,472.8 1137.8,470.5 C1139.6,468.2 1141.3,465.9 1143,463.7 C1144.7,461.4 1146.3,459.2 1148,457 C1149.6,454.8 1151.2,452.7 1152.8,450.6 C1154.3,448.5 1155.9,446.4 1157.4,444.4 C1158.9,442.4 1160.4,440.4 1161.9,438.4 C1163.3,436.5 1164.7,434.6 1166.1,432.8 C1167.4,431 1168.8,429.2 1170.1,427.5 C1171.3,425.8 1172.6,424.1 1173.7,422.5 C1174.9,421 1176,419.4 1177.2,418.2 C1178.4,416.9 1179.7,415.7 1180.9,414.9 C1182.2,414.1 1184.2,413 1184.9,413.5 C1185.7,413.9 1185.5,416 1185.4,417.5 C1185.2,419 1184.7,420.7 1184.1,422.3 C1183.5,423.9 1182.5,425.5 1181.6,427.2 C1180.7,428.9 1179.7,430.7 1178.7,432.6 C1177.7,434.5 1176.6,436.4 1175.5,438.4 C1174.4,440.4 1173.3,442.4 1172.1,444.5 C1171,446.6 1169.8,448.8 1168.6,451 C1167.4,453.2 1166.1,455.5 1164.9,457.8 C1163.6,460 1162.3,462.4 1161,464.8 C1159.7,467.1 1158.4,469.6 1157,472 C1155.7,474.5 1154.3,477 1152.9,479.5 C1151.5,482 1150.1,484.6 1148.7,487.1 C1147.3,489.7 1145.8,492.4 1144.4,495 C1142.9,497.7 1141.4,500.4 1139.9,503.1 C1138.4,505.8 1136.9,508.5 1135.4,511.3 C1133.9,514.1 1132.4,516.9 1130.8,519.7 C1129.2,522.5 1127.7,525.4 1126.1,528.2 C1124.5,531.1 1122.9,534 1121.3,536.9 C1119.7,539.9 1118.1,542.8 1116.4,545.8 C1114.8,548.8 1112.3,553.3 1111.5,554.8" stroke-width="1.2" fill="none" />
<path d="M1086.6,526.1 C1087.7,524.6 1091,520.3 1093.1,517.4 C1095.3,514.5 1097.4,511.7 1099.5,508.9 C1101.6,506 1103.7,503.2 1105.8,500.5 C1107.9,497.7 1109.9,494.9 1112,492.2 C1114,489.5 1116,486.8 1118,484.1 C1120,481.4 1122,478.8 1124,476.2 C1125.9,473.6 1127.9,471 1129.8,468.4 C1131.7,465.8 1133.6,463.3 1135.5,460.8 C1137.3,458.3 1139.2,455.8 1141,453.4 C1142.8,451 1144.6,448.6 1146.4,446.2 C1148.1,443.8 1149.9,441.5 1151.6,439.2 C1153.3,436.9 1155,434.7 1156.7,432.5 C1158.3,430.2 1159.9,428.1 1161.5,425.9 C1163.1,423.8 1164.7,421.7 1166.2,419.7 C1167.7,417.7 1169.2,415.7 1170.6,413.8 C1172.1,411.9 1173.4,409.9 1174.8,408.2 C1176.3,406.4 1177.7,404.8 1179.3,403.3 C1180.8,401.9 1182.6,400.6 1184.2,399.5 C1185.9,398.4 1187.4,397.2 1189.2,396.7 C1191,396.2 1193.8,395.5 1195.1,396.3 C1196.5,397.1 1196.9,399.7 1197.2,401.5 C1197.5,403.3 1197.1,405.1 1196.8,407 C1196.6,409 1196.3,411.1 1195.7,413.1 C1195.1,415.1 1194.2,417.1 1193.2,419.1 C1192.3,421.1 1191,423.1 1189.9,425.2 C1188.7,427.3 1187.5,429.5 1186.3,431.7 C1185.1,433.9 1183.9,436.1 1182.6,438.5 C1181.3,440.8 1180,443.1 1178.7,445.5 C1177.4,447.9 1176,450.4 1174.6,452.9 C1173.3,455.4 1171.9,457.9 1170.5,460.5 C1169,463.1 1167.6,465.7 1166.2,468.4 C1164.7,471 1163.2,473.7 1161.7,476.4 C1160.2,479.1 1158.7,481.9 1157.2,484.7 C1155.6,487.5 1154.1,490.3 1152.5,493.1 C1151,496 1149.4,498.9 1147.8,501.8 C1146.2,504.7 1144.6,507.6 1142.9,510.6 C1141.3,513.6 1139.6,516.6 1138,519.6 C1136.3,522.6 1134.7,525.6 1133,528.7 C1131.3,531.8 1129.6,534.9 1127.8,538 C1126.1,541.1 1123.5,545.9 1122.7,547.5" stroke-width="1.2" fill="none" />
<path d="M1055.3,593.5 C1056.4,592.1 1059.5,588 1061.5,585.2 C1063.6,582.5 1065.6,579.8 1067.6,577.1 C1069.6,574.4 1071.6,571.7 1073.6,569.1 C1075.6,566.5 1077.5,563.8 1079.5,561.2 C1081.4,558.7 1083.3,556.1 1085.2,553.5 C1087.1,551 1089,548.5 1090.9,546 C1092.7,543.5 1094.6,541 1096.4,538.6 C1098.2,536.2 1100,533.7 1101.8,531.4 C1103.6,529 1105.4,526.6 1107.1,524.3 C1108.8,522 1110.5,519.7 1112.2,517.5 C1113.9,515.2 1115.6,513 1117.2,510.8 C1118.8,508.6 1120.4,506.5 1122,504.4 C1123.6,502.3 1125.1,500.2 1126.7,498.2 C1128.2,496.1 1129.7,494.2 1131.1,492.2 C1132.5,490.3 1134,488.4 1135.3,486.6 C1136.7,484.7 1138,483 1139.3,481.3 C1140.6,479.5 1141.8,477.9 1143,476.3 C1144.2,474.8 1145.3,473.2 1146.5,472 C1147.7,470.7 1148.9,469.4 1150.2,468.7 C1151.5,467.9 1153.4,466.8 1154.2,467.3 C1154.9,467.7 1154.7,469.8 1154.6,471.3 C1154.5,472.8 1154,474.4 1153.4,476.1 C1152.8,477.7 1151.8,479.3 1150.9,481 C1150,482.7 1149,484.5 1147.9,486.4 C1146.9,488.2 1145.8,490.2 1144.8,492.2 C1143.7,494.2 1142.5,496.2 1141.4,498.3 C1140.2,500.4 1139,502.6 1137.8,504.8 C1136.6,507 1135.4,509.2 1134.1,511.5 C1132.8,513.8 1131.6,516.2 1130.3,518.5 C1128.9,520.9 1127.6,523.3 1126.3,525.8 C1124.9,528.2 1123.5,530.7 1122.2,533.3 C1120.8,535.8 1119.4,538.3 1117.9,540.9 C1116.5,543.5 1115.1,546.2 1113.6,548.8 C1112.2,551.5 1110.7,554.1 1109.2,556.9 C1107.7,559.6 1106.2,562.3 1104.7,565.1 C1103.1,567.9 1101.6,570.7 1100,573.5 C1098.5,576.3 1096.9,579.2 1095.3,582 C1093.8,584.9 1092.2,587.8 1090.6,590.7 C1089,593.7 1087.3,596.6 1085.7,599.6 C1084.1,602.6 1081.6,607.1 1080.7,608.6" stroke-width="1.2" fill="none" />
<path d="M1055.9,579.9 C1057,578.4 1060.2,574 1062.4,571.2 C1064.5,568.3 1066.7,565.5 1068.8,562.6 C1070.9,559.8 1073,557 1075,554.2 C1077.1,551.5 1079.2,548.7 1081.2,546 C1083.3,543.3 1085.3,540.6 1087.3,537.9 C1089.3,535.2 1091.3,532.6 1093.2,530 C1095.2,527.3 1097.1,524.7 1099,522.2 C1100.9,519.6 1102.8,517.1 1104.7,514.6 C1106.6,512.1 1108.4,509.6 1110.2,507.2 C1112.1,504.8 1113.9,502.4 1115.6,500 C1117.4,497.6 1119.1,495.3 1120.9,493 C1122.6,490.7 1124.3,488.5 1125.9,486.2 C1127.6,484 1129.2,481.9 1130.8,479.7 C1132.4,477.6 1133.9,475.5 1135.5,473.5 C1137,471.5 1138.5,469.5 1139.9,467.6 C1141.3,465.6 1142.6,463.7 1144.1,462 C1145.5,460.2 1146.9,458.6 1148.5,457.1 C1150.1,455.7 1151.8,454.4 1153.5,453.3 C1155.1,452.2 1156.6,451 1158.4,450.5 C1160.2,449.9 1163,449.3 1164.4,450.1 C1165.7,450.9 1166.2,453.5 1166.5,455.3 C1166.7,457 1166.3,458.9 1166.1,460.8 C1165.8,462.8 1165.5,464.9 1164.9,466.9 C1164.3,468.9 1163.4,470.9 1162.5,472.9 C1161.5,474.9 1160.3,476.9 1159.1,479 C1158,481.1 1156.8,483.2 1155.6,485.4 C1154.4,487.7 1153.1,489.9 1151.8,492.2 C1150.6,494.6 1149.3,496.9 1147.9,499.3 C1146.6,501.7 1145.3,504.2 1143.9,506.7 C1142.5,509.2 1141.1,511.7 1139.7,514.3 C1138.3,516.9 1136.9,519.5 1135.4,522.1 C1133.9,524.8 1132.5,527.5 1131,530.2 C1129.5,532.9 1128,535.7 1126.4,538.5 C1124.9,541.3 1123.3,544.1 1121.8,546.9 C1120.2,549.8 1118.6,552.7 1117,555.6 C1115.4,558.5 1113.8,561.4 1112.2,564.4 C1110.5,567.3 1108.9,570.3 1107.2,573.4 C1105.6,576.4 1103.9,579.4 1102.2,582.5 C1100.5,585.6 1098.8,588.7 1097.1,591.8 C1095.4,594.9 1092.8,599.7 1091.9,601.2" stroke-width="1.2" fill="none" />
<path d="M1307.4,170.2 C1308.4,168.8 1311.5,164.7 1313.6,162 C1315.6,159.2 1317.6,156.5 1319.6,153.8 C1321.7,151.1 1323.6,148.5 1325.6,145.8 C1327.6,143.2 1329.6,140.6 1331.5,138 C1333.4,135.4 1335.4,132.8 1337.3,130.3 C1339.2,127.7 1341.1,125.2 1342.9,122.7 C1344.8,120.2 1346.6,117.8 1348.5,115.3 C1350.3,112.9 1352.1,110.5 1353.9,108.1 C1355.6,105.7 1357.4,103.4 1359.1,101 C1360.9,98.7 1362.6,96.4 1364.3,94.2 C1366,91.9 1367.6,89.7 1369.2,87.5 C1370.9,85.3 1372.5,83.2 1374.1,81.1 C1375.6,79 1377.2,76.9 1378.7,74.9 C1380.2,72.9 1381.7,70.9 1383.1,69 C1384.6,67 1386,65.1 1387.4,63.3 C1388.7,61.5 1390.1,59.7 1391.3,58 C1392.6,56.3 1393.8,54.6 1395,53.1 C1396.2,51.5 1397.3,50 1398.5,48.7 C1399.7,47.4 1401,46.2 1402.2,45.4 C1403.5,44.6 1405.5,43.6 1406.2,44 C1406.9,44.4 1406.8,46.6 1406.6,48 C1406.5,49.5 1406,51.2 1405.4,52.8 C1404.8,54.4 1403.8,56 1402.9,57.7 C1402,59.5 1401,61.3 1400,63.1 C1399,65 1397.9,66.9 1396.8,68.9 C1395.7,70.9 1394.6,73 1393.4,75.1 C1392.3,77.2 1391.1,79.3 1389.9,81.5 C1388.6,83.7 1387.4,86 1386.1,88.3 C1384.9,90.6 1383.6,92.9 1382.3,95.3 C1381,97.7 1379.7,100.1 1378.3,102.5 C1377,105 1375.6,107.5 1374.2,110 C1372.8,112.5 1371.4,115.1 1370,117.7 C1368.6,120.3 1367.1,122.9 1365.7,125.5 C1364.2,128.2 1362.7,130.9 1361.2,133.6 C1359.7,136.3 1358.2,139 1356.7,141.8 C1355.2,144.6 1353.6,147.4 1352.1,150.2 C1350.5,153 1349,155.9 1347.4,158.8 C1345.8,161.6 1344.2,164.5 1342.6,167.5 C1341,170.4 1339.4,173.3 1337.7,176.3 C1336.1,179.3 1333.6,183.8 1332.8,185.3" stroke-width="1.2" fill="none" />
<path d="M1307.9,156.6 C1309,155.1 1312.3,150.8 1314.4,147.9 C1316.6,145 1318.7,142.2 1320.8,139.4 C1322.9,136.5 1325,133.7 1327.1,131 C1329.2,128.2 1331.2,125.4 1333.3,122.7 C1335.3,120 1337.3,117.3 1339.3,114.6 C1341.3,112 1343.3,109.3 1345.3,106.7 C1347.2,104.1 1349.1,101.5 1351.1,98.9 C1353,96.4 1354.9,93.8 1356.7,91.3 C1358.6,88.8 1360.5,86.4 1362.3,83.9 C1364.1,81.5 1365.9,79.1 1367.7,76.7 C1369.4,74.4 1371.2,72 1372.9,69.7 C1374.6,67.4 1376.3,65.2 1378,63 C1379.6,60.8 1381.2,58.6 1382.8,56.5 C1384.4,54.3 1386,52.3 1387.5,50.2 C1389,48.2 1390.5,46.2 1391.9,44.3 C1393.4,42.4 1394.7,40.4 1396.1,38.7 C1397.5,37 1399,35.3 1400.5,33.9 C1402.1,32.4 1403.9,31.2 1405.5,30.1 C1407.2,28.9 1408.6,27.8 1410.5,27.2 C1412.3,26.7 1415.1,26 1416.4,26.8 C1417.8,27.6 1418.2,30.2 1418.5,32 C1418.8,33.8 1418.4,35.6 1418.1,37.5 C1417.9,39.5 1417.6,41.6 1417,43.6 C1416.4,45.6 1415.5,47.6 1414.5,49.6 C1413.5,51.7 1412.3,53.6 1411.2,55.7 C1410,57.8 1408.8,60 1407.6,62.2 C1406.4,64.4 1405.2,66.7 1403.9,69 C1402.6,71.3 1401.3,73.7 1400,76.1 C1398.7,78.5 1397.3,80.9 1395.9,83.4 C1394.6,85.9 1393.2,88.5 1391.8,91 C1390.3,93.6 1388.9,96.2 1387.4,98.9 C1386,101.5 1384.5,104.2 1383,106.9 C1381.5,109.7 1380,112.4 1378.5,115.2 C1376.9,118 1375.4,120.8 1373.8,123.7 C1372.2,126.5 1370.7,129.4 1369.1,132.3 C1367.5,135.2 1365.8,138.1 1364.2,141.1 C1362.6,144.1 1360.9,147.1 1359.3,150.1 C1357.6,153.1 1355.9,156.2 1354.3,159.2 C1352.6,162.3 1350.9,165.4 1349.1,168.5 C1347.4,171.7 1344.8,176.4 1343.9,178" stroke-width="1.2" fill="none" />
</g>
<g clip-path="url(#cRF)">
<path d="M1151.6,539.1 C1163.7,517.5 1200,452.4 1224.3,409.1 C1248.6,365.8 1272.7,322.2 1297.4,279.2 C1322.1,236.2 1347.9,194.4 1372.4,151.3 C1397,108.2 1432.7,42.3 1444.8,20.5" stroke-width="1.05" fill="none" />
<path d="M1155.5,541.8 C1167.4,520.1 1202.9,454.6 1227.2,411.5 C1251.6,368.4 1277,326.1 1301.7,283.3 C1326.4,240.5 1351.2,197.8 1375.5,154.6 C1399.8,111.4 1435.6,45.8 1447.6,24" stroke-width="1.05" fill="none" />
<path d="M1158.5,543.9 C1170.6,522.3 1206.4,457.3 1230.9,414.5 C1255.5,371.7 1281.3,330 1305.8,287.2 C1330.3,244.3 1353.8,200.5 1378,157.4 C1402.3,114.3 1439,50 1451.2,28.5" stroke-width="1.05" fill="none" />
<path d="M1161.5,545.9 C1173.8,524.6 1210.7,460.6 1235.3,418 C1259.9,375.4 1284.9,333.3 1309.2,290.4 C1333.5,247.4 1356.5,203.3 1380.8,160.5 C1405.2,117.6 1442.8,54.6 1455.1,33.4" stroke-width="1.05" fill="none" />
</g>
<polygon points="1400,9 1442,17 1458,37 1166,549 1147,536 1100,514" stroke-width="2.4" fill="none" />
<line x1="1449" y1="24" x2="1147" y2="536" stroke-width="2.8" stroke-linecap="round"/>
<line x1="1442" y1="17" x2="1449" y2="24" stroke-width="1.92" stroke-linecap="round"/>
<ellipse cx="1310" cy="274.7" rx="4.6" ry="6.5" transform="rotate(30 1310 274.7)" stroke-width="1.8" fill="#fff"/>
<line x1="1483" y1="45" x2="1346" y2="287.5" stroke-width="2.16" stroke-linecap="round"/>
<line x1="1320.8" y1="332.8" x2="1195" y2="556" stroke-width="2.16" stroke-linecap="round"/>
<line x1="1482.5" y1="46" x2="1482" y2="54" stroke-width="2.16" stroke-linecap="round"/>
<line x1="1482.5" y1="46" x2="1475.9" y2="50.5" stroke-width="2.16" stroke-linecap="round"/>
<line x1="1195.5" y1="555" x2="1196" y2="547" stroke-width="2.16" stroke-linecap="round"/>
<line x1="1195.5" y1="555" x2="1202.1" y2="550.5" stroke-width="2.16" stroke-linecap="round"/>
<line x1="1460" y1="38" x2="1472" y2="41" stroke-width="2.16" stroke-linecap="butt" stroke-dasharray="5,3"/>
<line x1="1476" y1="42" x2="1492" y2="46" stroke-width="2.16" stroke-linecap="round"/>
<g transform="translate(1333,318) rotate(-60.6)">
<text x="-6.8" y="8.3" font-size="23" stroke-width="0.7">6</text>
<line x1="16.2" y1="-17.5" x2="16.2" y2="-8" stroke-width="2.6"/>
<line x1="11.5" y1="-2" x2="21" y2="-2" stroke-width="1.8"/>
<text x="12.3" y="14.5" font-size="16" stroke-width="0.7">2</text>
<line x1="27.5" y1="-20" x2="28" y2="-14.5" stroke-width="2.6"/><line x1="32" y1="-20" x2="32.5" y2="-14.5" stroke-width="2.6"/>
</g>
<line x1="1096.8" y1="518" x2="1080.6" y2="544.9" stroke-width="1.92" stroke-linecap="butt" stroke-dasharray="5,3.5"/>
<line x1="1086" y1="539" x2="1094" y2="531" stroke-width="1.92" stroke-linecap="round"/>
<line x1="1087" y1="533" x2="1093" y2="541" stroke-width="1.4" stroke-linecap="round"/>
<line x1="1145.9" y1="539.3" x2="1129.7" y2="567.7" stroke-width="1.92" stroke-linecap="butt" stroke-dasharray="5,3.5"/>
<line x1="1166.2" y1="550" x2="1150" y2="577.8" stroke-width="1.92" stroke-linecap="butt" stroke-dasharray="5,3.5"/>
<line x1="1148" y1="570" x2="1156" y2="573" stroke-width="1.4" stroke-linecap="round"/>
<line x1="1150" y1="574.5" x2="1155" y2="567" stroke-width="1.4" stroke-linecap="round"/>
<line x1="1171.3" y1="552.5" x2="1181" y2="557.5" stroke-width="2.16" stroke-linecap="round"/>
<line x1="1186" y1="560" x2="1212" y2="572" stroke-width="2.16" stroke-linecap="round"/>
<line x1="1127.2" y1="559" x2="1138.4" y2="563.2" stroke-width="2.16" stroke-linecap="round"/>
<line x1="1131.8" y1="555.2" x2="1133.8" y2="567" stroke-width="2.16" stroke-linecap="round"/>
<line x1="1137.4" y1="557.2" x2="1128.2" y2="565" stroke-width="2.16" stroke-linecap="round"/>
<line x1="1111.5" y1="541.3" x2="1116.5" y2="533.7" stroke-width="2.6" stroke-linecap="round"/>
<line x1="1121.5" y1="536.5" x2="1120" y2="540.5" stroke-width="2.2" stroke-linecap="round"/>
<line x1="1126" y1="537" x2="1124.5" y2="541" stroke-width="2.2" stroke-linecap="round"/>
<line x1="1104.4" y1="543.9" x2="1114.5" y2="549.4" stroke-width="2" stroke-linecap="round"/>
<text transform="translate(1101.5,556) rotate(30)" x="-5.5" y="6" font-size="17" stroke-width="0.7">2</text>
<path d="M1140.9,567.7 C1136,574 1136,586 1145.9,591.5 C1151,593 1156,588 1161.1,586.4" stroke-width="1.8" fill="none" />
<line x1="1169.6" y1="572" x2="1169.6" y2="579.5" stroke-width="2.6" stroke-linecap="round"/>
<line x1="1179" y1="570.8" x2="1178.5" y2="575" stroke-width="2.2" stroke-linecap="round"/>
<line x1="1183" y1="570.8" x2="1182.5" y2="575" stroke-width="2.2" stroke-linecap="round"/>
<line x1="1165.7" y1="584.9" x2="1175.3" y2="584.9" stroke-width="2" stroke-linecap="round"/>
<text transform="translate(1160.9,603.9) scale(1.476,1)" font-size="18.12" stroke-width="0.7">4</text>
<path d="M1100,514 C1110,522 1125,530 1147,536 C1155,541 1160,546 1166,549" stroke-width="3.2" fill="none" />
<path d="M1292.6,426.7 C1330,416 1380,415 1437.6,445.8 L1423.8,564 L1356.6,556 L1329,553 L1268,547 Z" stroke-width="2.6" fill="#fff" />
<path d="M1329,553 C1332,548 1352,548 1356.6,553 C1358,560 1332,562 1329,556 Z" stroke-width="2" fill="#fff" />
<line x1="1349" y1="495" x2="1353" y2="492" stroke-width="1.0" stroke-linecap="round"/>
<line x1="1349.6" y1="500" x2="1353.6" y2="497" stroke-width="1.0" stroke-linecap="round"/>
<line x1="1350.2" y1="505" x2="1354.2" y2="502" stroke-width="1.0" stroke-linecap="round"/>
<line x1="1350.8" y1="510" x2="1354.8" y2="507" stroke-width="1.0" stroke-linecap="round"/>
<line x1="1351.4" y1="515" x2="1355.4" y2="512" stroke-width="1.0" stroke-linecap="round"/>
<line x1="1352" y1="520" x2="1356" y2="517" stroke-width="1.0" stroke-linecap="round"/>
<line x1="1352.6" y1="525" x2="1356.6" y2="522" stroke-width="1.0" stroke-linecap="round"/>
<line x1="1353.2" y1="530" x2="1357.2" y2="527" stroke-width="1.0" stroke-linecap="round"/>
<line x1="1353.8" y1="535" x2="1357.8" y2="532" stroke-width="1.0" stroke-linecap="round"/>
<line x1="1354.4" y1="540" x2="1358.4" y2="537" stroke-width="1.0" stroke-linecap="round"/>
<line x1="1355" y1="545" x2="1359" y2="542" stroke-width="1.0" stroke-linecap="round"/>
<line x1="1355.6" y1="550" x2="1359.6" y2="547" stroke-width="1.0" stroke-linecap="round"/>
<path d="M1346,492 C1347,492.3 1350.3,492.7 1352,494 C1353.7,495.3 1355.3,499 1356,500" stroke-width="1" fill="none" />
<polygon points="1338,558 1344,558 1336,608 1330,608" stroke-width="1.8" fill="#fff" />
<path d="M1372,652 C1374.2,653.3 1381.5,656.7 1385,660 C1388.5,663.3 1392.5,668 1393,672 C1393.5,676 1391.5,681.3 1388,684 C1384.5,686.7 1374.7,687.3 1372,688" stroke-width="2.2" fill="url(#hatchH)" />
<path d="M1368,710 C1371,712 1381.2,717 1386,722 C1390.8,727 1396.3,734.7 1397,740 C1397.7,745.3 1394.5,751.7 1390,754 C1385.5,756.3 1373.3,754 1370,754" stroke-width="2.2" fill="url(#hatchH)" />
<path d="M1366,754 C1368.3,755.7 1376.7,760.2 1380,764 C1383.3,767.8 1386.3,773.3 1386,777 C1385.7,780.7 1381.7,784.5 1378,786 C1374.3,787.5 1366.3,786 1364,786" stroke-width="2.2" fill="url(#hatchH)" />
<path d="M1363,787 C1364.3,788.5 1369.3,792.8 1371,796 C1372.7,799.2 1373.8,802.8 1373,806 C1372.2,809.2 1368.5,813.3 1366,815 C1363.5,816.7 1359.3,815.8 1358,816" stroke-width="2.2" fill="url(#hatchH)" />
<polygon points="1296,648 1356,648 1352,690 1345,760 1338,802 1250,808 1262,760 1276,700" stroke-width="0" fill="url(#hatchH)" stroke="none"/>
<path d="M1302,684 C1305,683.3 1312.8,680 1320,680 C1327.2,680 1340.8,683.3 1345,684" stroke-width="5" fill="none" stroke="#fff"/>
<path d="M1302,681.4 C1305,680.7 1312.8,677.4 1320,677.4 C1327.2,677.4 1340.8,680.7 1345,681.4" stroke-width="1.3" fill="none" />
<path d="M1302,686.6 C1305,685.9 1312.8,682.6 1320,682.6 C1327.2,682.6 1340.8,685.9 1345,686.6" stroke-width="1.3" fill="none" />
<path d="M1275,757 C1279.2,756.2 1292.8,751.8 1300,752 C1307.2,752.2 1311.3,757.7 1318,758 C1324.7,758.3 1336.3,754.7 1340,754" stroke-width="5" fill="none" stroke="#fff"/>
<path d="M1275,754.4 C1279.2,753.6 1292.8,749.2 1300,749.4 C1307.2,749.6 1311.3,755.1 1318,755.4 C1324.7,755.7 1336.3,752.1 1340,751.4" stroke-width="1.3" fill="none" />
<path d="M1275,759.6 C1279.2,758.8 1292.8,754.4 1300,754.6 C1307.2,754.8 1311.3,760.3 1318,760.6 C1324.7,760.9 1336.3,757.3 1340,756.6" stroke-width="1.3" fill="none" />
<path d="M1262,793 C1266.7,792.5 1282,789.7 1290,790 C1298,790.3 1303,794.7 1310,795 C1317,795.3 1328.3,792.5 1332,792" stroke-width="5" fill="none" stroke="#fff"/>
<path d="M1262,790.4 C1266.7,789.9 1282,787.1 1290,787.4 C1298,787.7 1303,792.1 1310,792.4 C1317,792.7 1328.3,789.9 1332,789.4" stroke-width="1.3" fill="none" />
<path d="M1262,795.6 C1266.7,795.1 1282,792.3 1290,792.6 C1298,792.9 1303,797.3 1310,797.6 C1317,797.9 1328.3,795.1 1332,794.6" stroke-width="1.3" fill="none" />
<path d="M1290,710 L1300,706" stroke-width="5" fill="none" stroke="#fff"/>
<path d="M1290,707.4 L1300,703.4" stroke-width="1.3" fill="none" />
<path d="M1290,712.6 L1300,708.6" stroke-width="1.3" fill="none" />
<path d="M1340,745 C1341,746.2 1345.2,747.8 1346,752 C1346.8,756.2 1345.2,767 1345,770" stroke-width="1.3" fill="none" />
<path d="M1296,660 C1296.8,662 1299.2,669 1301,672 C1302.8,675 1306,677 1307,678" stroke-width="1.3" fill="none" />
<path d="M1320,790 C1320.3,791.7 1322.3,797 1322,800 C1321.7,803 1318.7,806.7 1318,808" stroke-width="1.3" fill="none" />
<path d="M1086.9,817.6 C1091.2,814.8 1105,807.4 1113,801 C1121,794.6 1129,787.7 1135,779 C1141,770.3 1144.2,757.5 1148.8,748.8 C1153.4,740.1 1156.5,734.1 1162.5,726.8 C1168.5,719.5 1178.1,711.2 1184.5,704.8 C1190.9,698.4 1194.3,693.2 1201,688.3 C1207.7,683.4 1216.9,678.9 1224.6,675.2 C1232.3,671.5 1239.4,669.3 1247,666.3 C1254.6,663.3 1266.2,658.8 1270,657.3" stroke-width="2.2" fill="none" />
<path d="M1187.7,854 C1191.6,851.5 1205,844.2 1211,839.3 C1217,834.4 1220.1,830.5 1223.6,824.5 C1227.1,818.5 1229.9,812.2 1232,803.4 C1234.1,794.6 1234.5,781.2 1236.3,771.7 C1238.1,762.2 1241.5,750.5 1242.6,746.3" stroke-width="1.9" fill="none" />
<path d="M1170.8,909 C1173.3,906.2 1179.6,896.2 1185.6,892 C1191.6,887.8 1199.7,887.1 1206.7,883.6 C1213.7,880.1 1221.1,875.9 1227.8,871 C1234.5,866.1 1242.2,859.3 1246.8,854 C1251.4,848.7 1253.9,841.8 1255.3,839.3" stroke-width="2.2" fill="none" />
<line x1="1196" y1="874" x2="1218" y2="866.5" stroke-width="0.9" stroke-linecap="round"/>
<line x1="1200.5" y1="869.8" x2="1222.5" y2="862.3" stroke-width="0.9" stroke-linecap="round"/>
<line x1="1205" y1="865.6" x2="1227" y2="858.1" stroke-width="0.9" stroke-linecap="round"/>
<line x1="1209.5" y1="861.4" x2="1231.5" y2="853.9" stroke-width="0.9" stroke-linecap="round"/>
<line x1="1214" y1="857.2" x2="1236" y2="849.7" stroke-width="0.9" stroke-linecap="round"/>
<line x1="1218.5" y1="853" x2="1240.5" y2="845.5" stroke-width="0.9" stroke-linecap="round"/>
<path d="M1210,830 C1210.3,828.8 1211.2,825.2 1212,823 C1212.8,820.8 1214.5,818 1215,817" stroke-width="0.9" fill="none" />
<path d="M1213.2,818 C1213.5,816.8 1214.4,813.2 1215.2,811 C1216,808.8 1217.7,806 1218.2,805" stroke-width="0.9" fill="none" />
<path d="M1216.4,806 C1216.7,804.8 1217.6,801.2 1218.4,799 C1219.2,796.8 1220.9,794 1221.4,793" stroke-width="0.9" fill="none" />
<path d="M1219.6,794 C1219.9,792.8 1220.8,789.2 1221.6,787 C1222.4,784.8 1224.1,782 1224.6,781" stroke-width="0.9" fill="none" />
<path d="M1222.8,782 C1223.1,780.8 1224,777.2 1224.8,775 C1225.6,772.8 1227.3,770 1227.8,769" stroke-width="0.9" fill="none" />
<path d="M1226,770 C1226.3,768.8 1227.2,765.2 1228,763 C1228.8,760.8 1230.5,758 1231,757" stroke-width="0.9" fill="none" />
<path d="M1229.2,758 C1229.5,756.8 1230.4,753.2 1231.2,751 C1232,748.8 1233.7,746 1234.2,745" stroke-width="0.9" fill="none" />
<path d="M1289,592 A14.5,14.5 0 0 1 1318,590 L1254,838 C1252,848 1246,850 1237,848 C1228,846 1216,842 1218,832 Z" stroke-width="2.4" fill="#fff" />
<g clip-path="url(#cLPs)">
<line x1="1297" y1="582" x2="1233" y2="845" stroke-width="1.0" stroke-linecap="round"/>
<line x1="1303.5" y1="582" x2="1240" y2="845" stroke-width="1.0" stroke-linecap="round"/>
<line x1="1310" y1="582" x2="1247" y2="845" stroke-width="1.0" stroke-linecap="round"/>
<path d="M1316,590 L1312,608 L1306,620 L1300,650 L1296,660 L1254,838 L1262,838 L1320,590 Z" stroke-width="0" fill="url(#hatchH)" stroke="none"/>
</g>
<path d="M1318,590 L1254,838" stroke-width="3.2" fill="none" />
<path d="M1358,596 A12,12 0 0 1 1382,595 L1356,862 C1355,870 1348,872 1341,871 C1333,870 1327,866 1328,858 Z" stroke-width="2.4" fill="#fff" />
<g clip-path="url(#cRPs)">
<line x1="1365" y1="588" x2="1337" y2="868" stroke-width="1.0" stroke-linecap="round"/>
<line x1="1371" y1="588" x2="1343" y2="868" stroke-width="1.0" stroke-linecap="round"/>
<line x1="1377" y1="588" x2="1349" y2="868" stroke-width="1.0" stroke-linecap="round"/>
</g>
<path d="M1358,598 L1328,858" stroke-width="3.0" fill="none" />
<path d="M1219,833 C1226,842 1246,844 1255,838" stroke-width="1.4" fill="none" />
<path d="M1329,858 C1336,866 1350,866 1356,860" stroke-width="1.4" fill="none" />
<line x1="1224" y1="838" x2="1223" y2="847" stroke-width="0.9" stroke-linecap="round"/>
<line x1="1333" y1="862" x2="1333" y2="870" stroke-width="0.9" stroke-linecap="round"/>
<line x1="1228.5" y1="839" x2="1227.5" y2="847" stroke-width="0.9" stroke-linecap="round"/>
<line x1="1336.8" y1="862" x2="1336.8" y2="870" stroke-width="0.9" stroke-linecap="round"/>
<line x1="1233" y1="838" x2="1232" y2="847" stroke-width="0.9" stroke-linecap="round"/>
<line x1="1340.6" y1="862" x2="1340.6" y2="870" stroke-width="0.9" stroke-linecap="round"/>
<line x1="1237.5" y1="839" x2="1236.5" y2="847" stroke-width="0.9" stroke-linecap="round"/>
<line x1="1344.4" y1="862" x2="1344.4" y2="870" stroke-width="0.9" stroke-linecap="round"/>
<line x1="1242" y1="838" x2="1241" y2="847" stroke-width="0.9" stroke-linecap="round"/>
<line x1="1348.2" y1="862" x2="1348.2" y2="870" stroke-width="0.9" stroke-linecap="round"/>
<line x1="1246.5" y1="839" x2="1245.5" y2="847" stroke-width="0.9" stroke-linecap="round"/>
<line x1="1352" y1="862" x2="1352" y2="870" stroke-width="0.9" stroke-linecap="round"/>
<polygon points="1340,557 1344.5,557 1291,846 1286.5,846" stroke-width="0" fill="#fff" stroke="none"/>
<path d="M1340,557 L1286.5,846 M1344.5,557 L1291,846" stroke-width="1.8" fill="none" />
<circle cx="1284" cy="853" r="6.5" stroke-width="2" fill="none"/>
<circle cx="1284" cy="853" r="2.8" stroke-width="1.5" fill="none"/>
<path d="M1321,596 C1323,592 1334,592 1336,595 C1336,598 1324,599 1321,596 Z" stroke-width="1.7" fill="#fff" />
<path d="M1320,601 C1322,597 1333,597 1335,600 C1335,603 1323,604 1320,601 Z" stroke-width="1.7" fill="#fff" />
<path d="M1319.1,606 C1321.1,602 1332.1,602 1334.1,605 C1334.1,608 1322.1,609 1319.1,606 Z" stroke-width="1.7" fill="#fff" />
<path d="M1318.1,611 C1320.1,607 1331.1,607 1333.1,610 C1333.1,613 1321.1,614 1318.1,611 Z" stroke-width="1.7" fill="#fff" />
<path d="M1317.2,616 C1319.2,612 1330.2,612 1332.2,615 C1332.2,618 1320.2,619 1317.2,616 Z" stroke-width="1.7" fill="#fff" />
<path d="M1316.2,621 C1318.2,617 1329.2,617 1331.2,620 C1331.2,623 1319.2,624 1316.2,621 Z" stroke-width="1.7" fill="#fff" />
<path d="M1282,608 C1290,608.2 1313.3,608.5 1330,609 C1346.7,609.5 1373.3,610.7 1382,611" stroke-width="4.5" fill="none"/>
<path d="M1282,608 C1290,608.2 1313.3,608.5 1330,609 C1346.7,609.5 1373.3,610.7 1382,611" stroke-width="1.7000000000000002" stroke="#fff" fill="none"/>
<path d="M1351,598 C1351.7,599 1354.3,601.7 1355,604 C1355.7,606.3 1355,610.7 1355,612" stroke-width="2.4" fill="none" />
<path d="M1278,621 L1378.8,628.5 Q1382,629 1382,632 L1381.5,641 Q1381,644 1378,643.5 L1278,637.8 Q1275,637.5 1275,634.5 L1275,624 Q1275,621 1278,621 Z" stroke-width="2.2" fill="url(#stip2)" />
<path d="M1298,639 L1356,642.3 L1355.5,650 L1297,648 Z" stroke-width="1.4" fill="url(#hatchH)" />
<path d="M1290,715.6 L1312,715.6" stroke-width="4.5" fill="none"/>
<path d="M1290,715.6 L1312,715.6" stroke-width="1.7000000000000002" stroke="#fff" fill="none"/>
<path d="M1305,722 L1346,722" stroke-width="4.5" fill="none"/>
<path d="M1305,722 L1346,722" stroke-width="1.7000000000000002" stroke="#fff" fill="none"/>
<path d="M1237,803 C1245.8,803.8 1274.5,806 1290,808 C1305.5,810 1318.3,812.7 1330,815 C1341.7,817.3 1355,820.8 1360,822" stroke-width="4.5" fill="none"/>
<path d="M1237,803 C1245.8,803.8 1274.5,806 1290,808 C1305.5,810 1318.3,812.7 1330,815 C1341.7,817.3 1355,820.8 1360,822" stroke-width="1.7000000000000002" stroke="#fff" fill="none"/>
<path d="M1262,812 C1263,813.3 1266.3,818.3 1268,820 C1269.7,821.7 1271.3,821.7 1272,822" stroke-width="2.2" fill="none" />
<path d="M1318,817 C1316.7,818.5 1312.7,823.8 1310,826 C1307.3,828.2 1303.3,829.3 1302,830" stroke-width="2.2" fill="none" />
<path d="M1172.4,742.4 C1176.1,740.4 1187.3,734.1 1194.8,730.4 C1202.3,726.7 1209.7,724.5 1217.2,720 C1224.7,715.5 1232.1,708.6 1239.6,703.6 C1247.1,698.6 1255.5,693.6 1262,690.1 C1268.5,686.6 1273.2,684.2 1278.4,682.7 C1283.6,681.2 1290.1,680.2 1293.3,681.2 C1296.5,682.2 1297.8,685 1297.8,688.7 C1297.8,692.4 1295,699.1 1293.3,703.6 C1291.5,708.1 1290,712 1287.3,715.5 C1284.6,719 1282.4,722 1276.9,724.5 C1271.4,727 1260.7,728.2 1254.5,730.4 C1248.3,732.6 1243.8,735.1 1239.6,737.9 C1235.4,740.6 1231.1,743.2 1229.1,746.9 C1227.1,750.6 1227.8,757.8 1227.6,760" stroke-width="2.2" fill="none" />
<polygon points="1262,690.1 1278.4,682.7 1293.3,681.2 1297.8,688.7 1293.3,703.6 1287.3,715.5 1276.9,724.5 1254.5,730.4 1239.6,737.9 1229.1,746.9 1227.6,760 1220,740 1217.2,720 1239.6,703.6" stroke-width="0" fill="#fff" stroke="none"/>
<path d="M1172.4,742.4 C1176.1,740.4 1187.3,734.1 1194.8,730.4 C1202.3,726.7 1209.7,724.5 1217.2,720 C1224.7,715.5 1232.1,708.6 1239.6,703.6 C1247.1,698.6 1255.5,693.6 1262,690.1 C1268.5,686.6 1273.2,684.2 1278.4,682.7 C1283.6,681.2 1290.1,680.2 1293.3,681.2 C1296.5,682.2 1297.8,685 1297.8,688.7 C1297.8,692.4 1295,699.1 1293.3,703.6 C1291.5,708.1 1290,712 1287.3,715.5 C1284.6,719 1282.4,722 1276.9,724.5 C1271.4,727 1260.7,728.2 1254.5,730.4 C1248.3,732.6 1243.8,735.1 1239.6,737.9 C1235.4,740.6 1231.1,743.2 1229.1,746.9 C1227.1,750.6 1227.8,757.8 1227.6,760" stroke-width="2.2" fill="none" />
<path d="M1270.9,694.6 C1272.6,695.1 1277.8,697.9 1281.3,697.6 C1284.8,697.4 1290,693.9 1291.8,693.1" stroke-width="1.6" fill="none" />
<line x1="1212" y1="697" x2="1210" y2="705" stroke-width="0.9" stroke-linecap="round"/>
<line x1="1216.6" y1="694.8" x2="1214.6" y2="703.8" stroke-width="0.9" stroke-linecap="round"/>
<line x1="1221.2" y1="692.6" x2="1219.2" y2="702.6" stroke-width="0.9" stroke-linecap="round"/>
<line x1="1225.8" y1="690.4" x2="1223.8" y2="698.4" stroke-width="0.9" stroke-linecap="round"/>
<line x1="1230.4" y1="688.2" x2="1228.4" y2="697.2" stroke-width="0.9" stroke-linecap="round"/>
<line x1="1235" y1="686" x2="1233" y2="696" stroke-width="0.9" stroke-linecap="round"/>
<line x1="1239.6" y1="683.8" x2="1237.6" y2="691.8" stroke-width="0.9" stroke-linecap="round"/>
<line x1="1244.2" y1="681.6" x2="1242.2" y2="690.6" stroke-width="0.9" stroke-linecap="round"/>
<line x1="1248.8" y1="679.4" x2="1246.8" y2="689.4" stroke-width="0.9" stroke-linecap="round"/>
<line x1="1231" y1="752" x2="1228" y2="759" stroke-width="0.9" stroke-linecap="round"/>
<line x1="1235.2" y1="749.4" x2="1232.2" y2="756.4" stroke-width="0.9" stroke-linecap="round"/>
<line x1="1239.4" y1="746.8" x2="1236.4" y2="753.8" stroke-width="0.9" stroke-linecap="round"/>
<line x1="1243.6" y1="744.2" x2="1240.6" y2="751.2" stroke-width="0.9" stroke-linecap="round"/>
<line x1="1247.8" y1="741.6" x2="1244.8" y2="748.6" stroke-width="0.9" stroke-linecap="round"/>
<line x1="1252" y1="739" x2="1249" y2="746" stroke-width="0.9" stroke-linecap="round"/>
<line x1="1256.2" y1="736.4" x2="1253.2" y2="743.4" stroke-width="0.9" stroke-linecap="round"/>
<line x1="1260.4" y1="733.8" x2="1257.4" y2="740.8" stroke-width="0.9" stroke-linecap="round"/>
<line x1="1264.6" y1="731.2" x2="1261.6" y2="738.2" stroke-width="0.9" stroke-linecap="round"/>
<line x1="1268.8" y1="728.6" x2="1265.8" y2="735.6" stroke-width="0.9" stroke-linecap="round"/>
<line x1="1273" y1="726" x2="1270" y2="733" stroke-width="0.9" stroke-linecap="round"/>
<line x1="1277.2" y1="723.4" x2="1274.2" y2="730.4" stroke-width="0.9" stroke-linecap="round"/>
<line x1="1281.4" y1="720.8" x2="1278.4" y2="727.8" stroke-width="0.9" stroke-linecap="round"/>
<line x1="1285.6" y1="718.2" x2="1282.6" y2="725.2" stroke-width="0.9" stroke-linecap="round"/>
<line x1="1209" y1="696" x2="1214" y2="715" stroke-width="1.2" stroke-linecap="round"/>
<line x1="1237" y1="682" x2="1241" y2="700" stroke-width="1.2" stroke-linecap="round"/>
<line x1="1248" y1="700" x2="1256" y2="703" stroke-width="1.2" stroke-linecap="round"/>
<line x1="1246" y1="704" x2="1254" y2="707" stroke-width="1.2" stroke-linecap="round"/>
</svg></body></html>
